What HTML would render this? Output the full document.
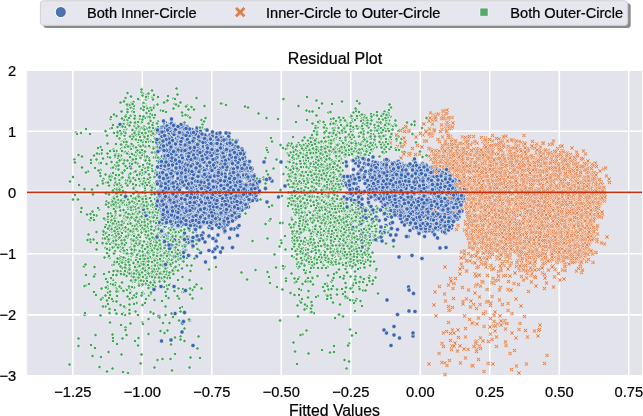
<!DOCTYPE html>
<html><head><meta charset="utf-8"><style>
html,body{margin:0;padding:0;background:#fff;overflow:hidden}
svg{display:block;filter:blur(0.35px)}
text{font-family:"Liberation Sans",sans-serif;fill:#000;stroke:#000;stroke-width:0.22px}
</style></head><body>
<svg width="643" height="416" viewBox="0 0 643 416">
<defs>
<marker id="mb" markerUnits="userSpaceOnUse" overflow="visible" markerWidth="1" markerHeight="1"><circle r="4.4" fill="#3d66b0" stroke="#fff" stroke-width="1.2"/></marker>
<marker id="mg" markerUnits="userSpaceOnUse" overflow="visible" markerWidth="1" markerHeight="1"><circle r="3.5" fill="#45a35e" stroke="#fff" stroke-width="1.4"/></marker>
<marker id="mo" markerUnits="userSpaceOnUse" overflow="visible" markerWidth="1" markerHeight="1"><path d="M-4.4 -2.6L-2.6 -4.4L0 -1.8L2.6 -4.4L4.4 -2.6L1.8 0L4.4 2.6L2.6 4.4L0 1.8L-2.6 4.4L-4.4 2.6L-1.8 0Z" fill="#db7a44" stroke="#fff" stroke-width="1.0" stroke-linejoin="miter"/></marker>
</defs>
<style>path.b{fill:none;marker:url(#mb)}path.g{fill:none;marker:url(#mg)}path.o{fill:none;marker:url(#mo)}</style>
<rect x="27" y="71" width="615" height="304" fill="#e3e3ec"/>
<g stroke="#ffffff" stroke-width="1.6"><line x1="72.8" y1="71" x2="72.8" y2="375"/><line x1="142.3" y1="71" x2="142.3" y2="375"/><line x1="211.8" y1="71" x2="211.8" y2="375"/><line x1="281.3" y1="71" x2="281.3" y2="375"/><line x1="350.8" y1="71" x2="350.8" y2="375"/><line x1="420.3" y1="71" x2="420.3" y2="375"/><line x1="489.8" y1="71" x2="489.8" y2="375"/><line x1="559.3" y1="71" x2="559.3" y2="375"/><line x1="628.8" y1="71" x2="628.8" y2="375"/><line x1="27" y1="131.2" x2="642" y2="131.2"/><line x1="27" y1="192.6" x2="642" y2="192.6"/><line x1="27" y1="253.8" x2="642" y2="253.8"/><line x1="27" y1="314.9" x2="642" y2="314.9"/></g>
<line x1="27" y1="71" x2="27" y2="375" stroke="#f0f0f6" stroke-width="1"/>
<line x1="27" y1="192.6" x2="642" y2="192.6" stroke="#fff" stroke-width="4"/>
<g transform="scale(0.5)"><path class="g" d="M296 316 727 426 686 372 342 475 585 307 627 454 668 500 640 326 401 478 271 541 282 448 313 430 244 565 255 225 747 269 737 488 614 347 806 257 304 424 639 437 622 412 327 491 663 327 649 362 641 506 262 470 269 440 697 454 627 324 615 395 266 526 299 357 278 567 608 369 327 560 245 409 355 463 603 465 671 362 622 340 278 359 609 428 706 243 689 293 307 627 625 425 245 516 329 524 738 242 703 478 307 298 666 332 764 405 624 554 325 494 651 434 606 392 720 503 705 499 291 209 647 355 611 499 667 411 318 493 307 527 303 421 226 476 240 404 285 645 623 530 775 225 691 596 583 338 172 571 590 410 645 342 262 478 307 443 672 507 655 305 645 360 680 308 733 457 700 233 667 383 291 436 226 402 661 452 658 435 320 543 244 447 811 305 608 389 366 524 219 358 731 250 288 411 598 466 651 522 232 416 679 514 276 306 635 440 719 207 845 314 576 323 731 306 265 269 275 419 705 241 690 584 213 465 201 340 707 567 299 361 157 677 649 582 750 261 669 513 632 450 251 196 247 385 185 423 654 353 344 526 326 525 319 500 657 292 687 436 317 477 679 352 140 363 696 483 682 469 601 304 654 365 267 294 728 446 193 319 657 371 282 482 241 269 321 468 223 410 329 547 615 505 607 350 247 516 228 393 276 407 325 490 271 357 235 414 604 519 681 472 669 349 755 434 668 474 704 284 358 477 745 568 248 201 293 359 348 502 290 380 299 516 234 688 225 399 318 558 754 476 291 525 339 459 281 300 632 351 316 243 729 444 675 321 683 296 221 238 346 523 747 294 712 224 322 486 680 488 628 393 663 280 629 306 679 324 232 315 692 312 259 366 735 310 726 512 292 598 226 602 729 243 637 433 327 455 689 309 641 283 617 341 699 291 262 209 675 467 603 434 249 461 274 549 742 296 364 537 234 401 245 455 726 446 631 497 252 530 283 369 564 392 694 479 604 394 613 617 678 312 717 457 658 446 220 488 289 276 615 391 628 431 686 305 291 514 315 209 243 254 634 291 236 478 281 472 593 479 700 268 355 468 676 264 701 464 701 519 203 307 274 395 646 574 263 317 180 441 702 306 588 319 256 542 598 393 341 468 714 202 241 317 267 217 612 308 699 486 617 384 591 302 720 434 728 442 735 444 286 551 313 490 689 516 257 509 260 208 680 243 586 368 602 580 659 279 690 422 661 410 741 288 340 507 611 326 631 467 638 246 622 518 287 334 232 541 675 493 674 381 293 213 625 476 302 459 317 538 264 337 352 493 602 486 269 439 250 262 604 495 316 546 270 536 243 503 352 518 650 504 261 583 670 636 735 297 707 225 747 299 219 516 296 475 628 363 607 509 767 238 648 308 237 517 249 488 224 354 273 450 641 316 653 445 676 407 695 596 288 508 347 497 622 312 305 271 647 430 309 735 318 441 705 493 464 371 644 430 252 579 318 453 277 554 652 355 567 348 689 497 648 306 731 313 651 453 231 363 275 424 666 572 594 524 731 481 606 496 640 437 679 373 579 449 745 464 331 523 332 203 287 373 311 417 621 482 254 580 267 226 691 309 237 517 360 516 658 442 341 718 275 423 730 475 656 448 605 281 172 550 242 311 282 542 348 541 379 735 344 445 334 535 650 443 628 464 589 310 303 516 263 487 256 239 334 477 645 445 653 264 351 458 269 479 664 510 322 527 244 283 215 485 317 479 242 298 289 406 605 669 733 295 275 540 672 322 696 419 696 307 336 521 741 448 777 462 802 291 291 392 248 524"/><path class="o" d="M1151 497 899 353 1154 387 1051 384 1148 444 1123 385 993 453 886 312 951 474 1157 475 1003 389 1079 493 936 336 1066 413 1054 524 998 413 1094 499 1077 311 1072 361 1044 532 1072 306 1029 455 944 379 1188 391 1128 460 1070 332 1040 480 1112 410 1015 421 1209 383 1140 393 1043 461 901 346 1077 314 1013 433 1151 382 1015 523 1081 509 963 497 1080 451 1166 413 1119 349 1117 360 1001 455 920 352 1062 551 1165 440 1015 476 1105 488 1020 489 1191 432 1019 419 1139 340 999 378 897 645 891 288 1027 370 1013 337 1007 434 978 382 1024 473 1070 343 1062 327 1113 425 956 316 997 334 1022 297 1010 294 1056 496 1086 512 1049 326 996 398 1048 475 1102 336 1112 396 952 400 1068 353 1001 575 1092 499 1097 436 929 386 1032 430 1039 516 1191 458 951 572 948 465 1149 489 1101 333 1001 323 972 475 960 448 1039 392 1087 395 1121 431 1173 447 1071 383 1004 391 1130 353 984 343 1094 354 976 425 1148 486 1050 383 1107 378 1017 309 989 337 1140 455 929 304 1156 326 1072 378 1051 463 1071 499 1042 452 1143 351 908 294 1020 401 950 429 1061 515 1127 350 905 287 1045 386 1172 384 982 486 1108 369 946 497 927 330 985 493 1014 463 1141 478 932 384 981 386 1005 391 978 359 1145 430 1143 445 1175 488 1105 420 982 434 1081 469 1053 426 951 302 945 443 1110 347 970 421 1018 456 995 648 1099 409 1178 357 1184 504 1096 301 1041 465 1010 323 934 425 1173 405 1085 533 1064 421 903 379 970 405 1035 472 1020 482 1072 501 1015 282 1099 485 1105 461 1049 458 1023 494 1063 361 949 416 1105 484 1182 437 1052 382 1126 477 947 422 952 367 1060 343 1144 496 993 405 1147 375 1094 383 1095 446 1134 506 973 359 1053 326 1027 416 1084 358 915 335 1073 362 858 438 1139 346 925 535 1045 401 1050 444 1067 439 1165 395 1067 380 1151 511 1001 493 980 294 1067 319 993 514 1033 324 987 411 1031 328 1046 342 1183 344 993 454 1012 691 1028 458 1054 456 1004 285 1052 447 957 502 935 332 951 495 1077 461 982 321 958 462 1078 353 1093 413 1171 393 1000 474 1007 376 1097 494 976 460 939 414 1138 489 896 253 1127 481 862 299 1054 313 1094 711 920 325 1208 379 1122 475 1076 512 960 311 950 449 968 419 1131 435 1144 506 1094 411 1102 417 1084 536 1120 458 1039 430 1028 359 964 384 1002 311 1055 352 937 330 1113 356 1153 354 1105 464 1105 458 1149 493 1146 479 1143 498 1109 391 897 238 946 366 1130 457 1118 330 879 333 1045 471 886 332 999 580 1060 403 1137 337 1059 358 1164 319 980 535 1133 422 977 320 1109 429 1090 526 1160 423 1094 335 1189 359 1020 330 1012 499 1093 439 1038 746 996 390 914 306 947 328 1174 484 1137 309 1126 441 1147 506 972 342 1013 446 1100 482 1133 409 925 274 958 499 1060 380 1142 445 1181 484 1028 315 1192 371 1031 319 1135 416 1048 461 954 446 1079 418 972 494 1160 448 1101 469 941 465 1128 558 880 327 1186 394 1168 336 1010 477 1144 475 1046 416 1102 329 920 314 1108 355 878 306 1046 360 986 417 1115 355 1060 468 965 423 1091 438 1028 340 980 298 1122 333 1020 475 963 497 1093 566 901 557 890 320 1049 427 1020 430 1052 367 1082 410 942 602 968 379 1038 385 1070 348 998 468 1038 448 1056 350 1099 394 968 375 990 662 1189 368 1186 439 1052 324 942 309 985 282 1077 484 849 282 1127 402 1079 462 983 378 937 333 988 487 990 322 904 302 1125 540 990 495 937 580 961 676 1040 420 1015 470 1028 467 1031 396 1115 437 1029 382 1188 414 896 338 1063 424 940 317 1038 503 1098 376 1095 440 941 365 1118 455 1134 502 1124 301 1019 494 1053 363 1163 430 1085 445 1063 293"/><path class="b" d="M497 355 788 343 904 411 343 285 771 332 475 323 778 361 766 387 330 402 802 366 480 400 413 401 426 371 354 339 898 428 474 414 419 271 348 272 440 327 379 374 449 432 854 416 408 278 851 425 861 458 916 385 340 418 340 328 382 365 888 354 853 330 911 399 746 391 901 378 480 356 376 474 901 380 417 473 373 364 750 364 498 375 809 374 380 368 335 280 324 344 908 370 411 304 857 388 768 411 355 304 737 378 918 423 478 309 688 394 423 401 885 434 732 361 835 453 336 329 865 407 368 368 892 459 435 410 453 428 345 493 336 360 435 408 419 397 354 394 376 273 368 396 763 338 441 420 812 375 355 261 488 312 360 405 421 328 917 409 876 407 404 401 338 275 849 357 402 307 337 406 851 402 713 409 799 396 773 418 825 400 850 369 410 358 729 327 363 397 365 418 385 480 814 378 345 376 445 283 402 308 796 328 388 327 375 389 338 343 325 349 791 414 904 373 421 373 801 337 510 393 857 447 395 283 759 340 829 435 465 312 415 344 430 283 803 399 426 503 757 348 466 307 394 439 886 419 369 301 828 367 847 332 411 431 322 352 345 325 346 273 794 430 781 365 381 332 778 417 373 365 490 335 875 384 418 365 922 384 352 262 359 357 754 374 424 312 365 354 878 363 442 320 426 403 893 405 442 432 899 396 401 505 804 327 473 431 452 430 466 346 314 440 811 392 814 348 416 326 371 442 418 333 921 398 861 448 769 377 257 247 331 246 433 348 440 292 320 403 797 411 370 292 341 439 797 360 383 330 797 406 405 358 913 434 337 301 411 315 322 435 347 253 448 369 821 360 468 385 427 314 337 427 483 367 744 366 841 344 372 414 363 326 392 339 428 272 724 398 398 436 487 390 465 495 895 429 861 455 333 438 388 273 397 438 478 388 473 368 866 451 445 429 423 296 385 332 341 431 817 396 320 399 420 399 781 416 793 338 401 295 429 406 321 320 326 329 420 271 873 414 832 444 854 343 423 358 375 395 696 374 449 349 346 292 457 334 358 258 460 282 394 329 473 417 367 420 419 366 472 313 447 365 808 413 415 340 871 448 318 401 380 331 346 405 874 380 704 408 362 453 856 372 328 283 355 268 544 362 425 406 835 436 450 453 854 341 329 405 332 357 320 406 369 273 825 384 330 452 867 376 377 319 459 357 350 268 502 365 447 375 439 395 410 325 497 350 814 343 841 383 762 326 907 400 814 401 760 358 361 401 921 425 347 489 475 387 393 513 783 389 758 387 344 432 909 367 916 379 705 321 742 341 364 434 355 363 464 322 369 251 448 357 366 411 881 415 466 290 746 314 777 357 815 352 377 372 362 290 465 285 446 354 428 336 905 362 506 384 897 447 378 305 842 389 401 301 332 444 900 387 753 329 377 451 344 364 870 361 477 327 325 399 460 299 901 386 477 329 340 411 342 680 868 363 465 329 402 358 751 379 379 399 782 339 383 383 871 368 319 279 422 405 428 349 418 455 708 406 908 416 370 305 336 511 474 369 719 325"/><path class="g" d="M302 381 296 293 235 337 538 554 623 489 542 276 662 245 332 517 308 492 686 286 612 560 619 299 661 479 582 391 326 546 293 475 672 442 633 322 618 283 765 228 659 526 266 466 666 420 283 459 262 337 638 286 296 446 685 303 680 361 219 618 703 276 268 468 225 471 635 255 527 355 640 416 666 432 693 737 655 516 306 470 648 405 706 584 663 340 657 283 587 301 697 470 657 296 791 248 347 460 245 580 316 524 662 438 688 458 278 254 647 330 307 550 725 250 248 320 267 387 646 394 311 370 672 298 719 522 307 271 273 341 259 598 667 450 601 345 675 475 633 401 628 469 719 266 232 576 679 456 582 362 588 349 633 279 718 273 535 477 308 473 585 482 590 565 260 464 717 489 220 590 635 552 783 271 673 291 619 287 280 242 692 472 150 390 677 408 256 512 348 506 211 263 616 359 588 350 316 481 717 489 574 297 315 503 598 555 398 500 275 460 700 444 627 383 280 418 709 509 594 398 684 262 647 381 630 417 588 462 285 242 602 425 288 346 736 555 721 231 344 456 772 304 708 489 218 596 254 337 223 454 667 483 712 563 632 342 624 295 710 460 655 499 263 512 199 328 320 517 597 349 253 258 578 340 187 479 232 416 692 433 681 240 727 520 241 205 586 350 771 460 241 403 592 290 232 412 651 274 732 520 778 232 265 465 619 298 293 280 734 242 676 476 752 541 314 425 310 564 260 440 696 273 673 297 679 376 672 450 666 431 732 453 663 359 647 420 343 527 624 391 236 262 333 556 275 454 572 557 609 411 261 529 231 308 671 278 635 267 626 426 702 258 268 544 227 417 703 451 245 294 633 201 616 556 290 606 304 505 570 472 582 310 787 251 254 425 662 491 249 439 265 436 657 225 327 480 731 241 315 520 265 428 647 332 248 305 701 485 667 438 599 504 236 316 598 457 544 283 242 550 660 460 590 362 247 255 599 307 587 469 655 305 279 260 327 508 584 355 671 413 651 443 313 488 652 292 697 250 280 547 664 530 287 521 242 650 587 485 156 399 617 504 712 431 670 458 735 242 329 563 670 422 590 336 758 267 657 379 269 428 679 461 418 539 738 278 694 412 331 448 374 211 250 426 320 558 653 432 642 368 643 300 730 293 315 526 699 490 634 263 692 442 657 579 264 426 182 320 627 490 753 294 221 443 216 585 267 546 613 511 242 576 567 537 695 300 722 446 242 430 619 490 201 631 685 466 781 233 278 416 754 244 308 483 365 492 672 506 678 522 259 459 576 412 290 536 265 230 649 450 697 471 680 399 629 365 653 306 225 737 368 642 221 405 614 301 272 514 664 427 674 250 610 397 587 395 712 666 292 448 306 246 287 421 659 336 336 528 754 224 779 279 676 438 605 387 716 426 673 315 240 512 583 436 661 296 679 324 333 553 777 232 763 264 251 655 333 518 342 511 624 315 661 401 230 378 226 560 691 423 295 430 714 236 295 499 283 407 223 336 737 320 751 457 254 335 198 308 711 553 637 370 273 398 248 477 303 336 403 577 172 258 280 239 288 211 347 197 643 320 666 263 588 471 236 498 248 203 770 286 728 294 260 314 269 543 248 303 280 371 625 299 530 374 241 502 627 289 308 315 787 493 291 213 236 406 677 455 742 293 308 472 309 377 334 530 276 284 853 236 219 626 647 460 280 413 263 484 622 395 221 303 598 337 325 458 701 459 667 284 358 465 621 356 576 397 309 541 293 294 585 452 705 237 250 615 214 743 612 542 742 268 722 299 304 371 746 561 636 386 593 466 741 307 307 294 274 280 296 507 696 505 232 526 588 453 283 465 281 727 328 487 613 292 638 459 275 397 614 407 722 459 606 300 696 304"/><path class="o" d="M1126 321 1016 299 1008 337 1043 285 1033 318 865 248 960 435 1168 470 1128 388 1112 400 954 648 1060 515 1086 320 1074 316 969 484 1189 420 1093 500 989 346 1061 383 934 542 999 466 1098 402 1007 289 1138 339 932 384 1096 390 1081 419 1022 327 962 387 1065 511 1052 389 976 325 1138 353 1017 509 1144 475 1150 445 1073 499 1101 401 1036 364 938 310 1130 541 1146 493 925 381 1174 454 1040 422 1142 486 933 389 1016 621 1128 528 982 606 1007 404 1156 499 1035 380 1163 456 1169 353 1073 493 1016 449 1000 479 1008 372 1067 445 1202 372 1179 413 1028 349 1081 427 901 273 1118 411 1156 399 939 397 991 444 1062 479 1158 485 902 256 1093 514 976 326 1146 365 1004 448 952 431 1097 325 968 743 988 631 1064 434 945 442 1197 359 1134 513 961 479 1003 399 1158 464 1031 288 1186 473 1051 509 1094 465 922 324 977 337 1084 464 1011 470 1117 436 1109 517 1098 456 1040 460 980 337 1053 556 900 333 1158 498 1143 423 1188 475 904 315 952 357 961 319 973 335 1141 478 962 408 986 557 1007 437 1182 424 1096 314 1160 490 1024 487 1021 299 1050 412 912 317 1003 527 1182 444 1194 404 896 248 1149 437 1001 281 1184 390 1054 303 965 391 891 285 1161 457 950 432 917 317 1006 356 1138 450 996 422 1162 483 914 298 1159 502 959 321 1136 445 1018 434 973 298 871 301 1012 371 1122 385 1070 424 868 396 1030 499 997 560 1092 355 899 324 1047 392 993 335 999 295 1062 377 973 604 984 394 931 326 1097 344 982 338 795 293 1121 317 1088 367 872 318 1153 468 943 376 994 369 961 402 893 663 977 327 1129 508 1005 434 1152 363 1146 414 1064 548 929 278 1129 353 1007 552 1008 323 1051 432 1006 315 948 356 1045 432 1179 415 1123 349 1063 426 1141 380 1150 522 1011 445 917 675 979 416 958 301 1148 420 1133 456 1022 453 1056 487 924 297 1040 400 970 414 976 354 1108 502 1008 506 1070 345 985 447 1037 408 1175 325 956 517 852 262 1155 520 982 408 1145 410 1078 429 945 511 904 235 898 252 1076 358 1157 517 1199 411 1010 641 920 357 1161 369 1053 479 1161 413 960 609 1164 340 887 327 1084 503 880 332 1070 433 1024 424 1159 462 1129 443 1118 426 943 416 1001 350 974 441 917 308 971 305 1003 472 1098 465 925 330 1162 509 986 368 1064 404 883 433 1093 483 937 507 1064 477 1160 390 1011 658 992 380 1151 321 1148 509 1169 404 1000 366 1002 332 952 346 1042 612 1192 359 1063 433 1131 329 1125 450 1004 371 1079 471 1014 479 967 345 1064 491 1171 484 1143 479 1081 461 1053 537 1170 394 1165 410 924 327 1120 405 953 488 967 407 1049 321 979 372 1118 327 1101 421 1006 416 916 660 908 411 901 293 905 336 1063 409 953 418 1083 361 1133 514 1135 306 900 619 1002 458 1171 308 1206 379 937 386 1030 361 1167 474 1167 415 1092 390 1088 496 1051 464 1173 331 1001 358 1160 486 988 348 1146 328 872 632 1198 402 1134 354 894 225 1032 495 1090 367 1153 397 1150 489 888 303 1070 511 1126 479 905 660 1067 413 953 699 1038 486 1034 463 1078 420 953 372 991 423 948 448 1170 380 1000 419 1008 317 1177 459 1135 391 1144 444 1116 477 1054 416 917 350 971 370 1037 342 1075 418 913 340 972 370 1168 388 971 478 859 258 1122 448 938 397 987 652 1049 328 1011 507 1044 340 1145 437 1194 435 928 376 1054 362 1125 377 1120 416 921 411 1008 382 932 361 1123 505 1150 414 889 325 1070 454 1069 387 1131 327 894 260 984 593 1142 477 945 342 1066 374 1024 345 983 302 1044 406 966 506 1027 472 1024 408 954 376 1004 325 1078 488 1077 398 944 424 1109 358 990 470 1092 332 1026 480 1007 306 875 309 1146 386 995 384 1149 391 1179 435 1119 337 1116 513 1042 462 1038 467 1205 369 1145 392 944 366 1170 359 1000 632 1155 407 905 337 1149 424 966 366 876 315 980 324 1164 465 1049 351 909 330"/><path class="b" d="M795 405 752 363 765 346 799 409 780 371 426 391 446 285 799 425 321 255 329 429 818 365 879 387 405 366 349 285 323 421 754 355 435 424 474 380 488 321 361 252 809 344 753 366 440 363 386 387 859 452 453 417 866 369 457 317 390 447 384 375 466 430 746 353 890 402 776 432 770 349 385 313 793 361 517 386 763 341 380 444 353 371 913 424 393 319 889 396 747 348 742 356 896 442 391 420 755 350 446 369 386 275 796 370 339 282 466 438 847 370 357 314 359 305 773 379 365 323 387 329 384 394 319 319 396 356 913 411 695 354 464 332 798 430 404 471 398 325 876 341 746 370 483 400 458 353 363 269 873 380 831 426 778 354 849 419 379 640 384 290 408 379 748 333 832 437 373 374 804 393 332 252 460 321 315 291 355 258 387 269 883 429 336 293 844 447 491 355 722 383 325 266 418 310 401 274 393 334 768 391 287 346 781 425 389 393 336 296 884 444 902 369 490 406 905 442 519 360 369 480 400 302 718 344 827 456 461 304 821 353 355 303 481 311 880 432 366 436 893 428 326 386 383 361 412 325 890 395 497 414 475 403 816 434 839 419 809 443 919 398 868 400 765 345 801 332 839 427 375 305 824 410 425 440 801 387 328 304 829 398 403 387 726 352 841 459 831 377 361 366 773 419 439 295 460 292 344 397 342 287 338 323 335 420 769 464 354 415 335 363 849 473 432 306 801 344 396 287 796 385 912 429 497 365 414 334 430 317 395 263 441 398 816 473 480 345 342 257 357 351 438 305 459 476 857 420 395 305 748 352 341 347 369 262 832 380 448 410 451 354 338 428 892 388 380 483 737 397 367 408 868 422 397 386 870 339 340 361 762 386 367 323 763 326 892 397 703 398 500 390 905 370 426 355 417 363 368 499 756 352 822 367 776 357 440 358 835 444 863 387 309 387 416 444 442 330 774 347 323 255 846 462 780 377 830 453 341 258 917 389 475 383 474 419 457 447 820 449 914 429 534 404 853 423 892 421 474 355 791 389 339 293 466 415 807 357 903 456 840 356 437 341 491 371 470 345 433 329 323 326 853 375 387 284 399 445 801 428 899 379 426 424 330 272 332 288 721 308 484 404 447 404 790 428 489 396 331 419 440 338 752 333 377 399 388 362 414 376 861 425 892 426 355 377 386 377 341 385 755 339 817 384 434 336 327 263 877 374 451 337 449 366 353 273 457 330 726 356 885 382 868 392 768 344 387 278 926 403 470 291 838 386 874 437 359 449 447 284 346 449 781 406 352 373 365 270 360 311 777 392 432 371 917 405 366 439 391 268 325 313 360 337 824 439 381 347 863 372 325 382 891 431 844 351 509 393 427 403 423 323 325 286"/><path class="g" d="M260 578 311 480 655 437 327 469 310 426 218 470 533 296 146 399 721 299 759 464 559 493 586 320 678 433 531 367 703 474 673 272 691 576 677 415 344 458 671 249 229 460 336 192 260 327 253 366 592 417 749 282 379 560 301 547 283 709 769 253 580 374 582 347 587 454 239 376 765 473 251 508 331 448 272 594 381 542 263 524 317 494 735 513 271 554 221 257 639 429 278 561 258 576 731 483 745 288 611 288 278 438 280 312 678 433 193 431 294 346 146 354 358 515 335 546 326 484 398 471 263 553 630 521 650 343 708 503 705 432 587 326 584 390 693 477 287 587 655 479 722 451 678 294 720 303 617 707 663 420 365 584 322 442 308 510 229 370 658 408 631 315 647 513 236 254 256 304 265 435 600 602 322 545 620 387 637 363 335 500 368 584 753 413 634 328 634 470 618 425 367 471 351 250 667 464 348 484 307 505 299 510 266 371 556 238 602 369 296 435 597 369 618 481 614 194 342 689 304 338 600 310 325 449 727 414 309 305 662 596 678 235 314 519 738 411 268 575 702 454 655 473 739 475 327 460 669 256 674 297 606 481 289 320 772 238 290 459 265 563 805 304 663 563 306 375 636 349 639 368 278 199 273 459 703 305 282 547 241 421 345 518 292 427 588 493 704 523 631 383 684 318 561 290 253 464 675 339 642 346 275 434 593 563 622 441 680 280 774 428 686 428 207 469 608 515 826 321 643 282 263 307 694 481 627 479 832 285 227 395 325 494 690 304 296 456 646 344 766 285 675 476 220 460 220 583 233 232 266 371 767 306 393 569 732 304 635 368 294 418 669 400 219 498 216 314 269 469 578 406 295 465 624 293 653 411 677 527 744 469 505 482 248 247 264 526 230 469 222 348 266 525 722 512 300 506 695 292 286 395 228 474 649 254 295 234 633 347 673 545 658 314 668 377 243 482 327 500 286 330 738 308 631 332 328 510 247 286 662 238 710 543 240 411 846 247 753 450 257 208 199 734 640 461 612 459 265 508 624 381 706 310 290 376 749 451 367 461 679 420 277 505 736 421 233 603 252 412 618 284 275 530 650 420 650 250 598 419 340 568 233 302 646 286 678 525 652 337 250 437 662 468 610 294 597 286 606 446 326 528 259 469 249 271 352 502 667 525 604 420 180 439 245 381 608 487 713 287 692 424 259 620 705 474 331 613 727 495 689 302 327 495 683 440 653 257 651 391 292 368 169 630 215 439 649 371 190 549 664 399 323 509 730 456 341 498 782 215 675 384 737 461 326 515 680 513 230 502 647 244 303 380 585 291 255 236 778 257 693 289 689 402 712 462 254 336 637 286 284 370 648 502 270 405 312 541 653 567 694 415 270 500 294 514 265 509 627 535 287 539 608 388 675 490 310 398 618 344 379 461 590 426 288 362 311 470 633 436 732 467 369 682 291 337 296 423 288 308 687 451 311 491 294 341 691 538 152 265 297 547 216 514 756 259 544 411 621 463 668 548 700 659 627 333 338 514 239 545 282 246 395 498 336 485 626 460 337 483 675 464 290 371 296 487 334 521 333 549 726 564 696 510 279 502 697 296 642 433 268 559 203 578 758 273 691 455 654 364 237 309 253 410 594 502 333 526 308 519 599 302 330 489 604 377"/><path class="o" d="M1057 385 1078 493 1049 453 971 304 1096 342 1104 518 975 303 867 230 1096 460 944 323 896 338 1029 331 955 389 898 621 926 288 1089 302 1087 491 818 307 875 433 974 579 1076 452 1075 451 1122 397 1169 483 1061 480 1193 411 973 444 1115 508 896 322 1080 319 1086 391 1084 415 1032 383 1115 327 1176 458 967 452 1011 451 1104 335 853 282 1122 432 1108 352 1094 381 1140 342 998 470 887 666 954 297 1122 378 990 372 1161 422 1031 454 995 404 1063 482 1027 428 1012 447 1097 420 1066 389 925 375 916 358 1107 340 1154 333 1114 458 1084 519 1115 492 925 304 1167 439 1072 328 931 443 966 283 1126 404 972 379 994 432 890 726 1027 437 891 602 1046 359 940 477 947 340 896 348 1151 463 895 267 1031 473 941 325 957 636 1061 439 1165 509 1049 430 1184 454 1064 339 1164 470 1109 506 953 412 1071 316 1055 478 1053 454 1071 331 1063 442 921 318 1044 405 946 337 1028 439 1202 363 924 348 1028 467 1097 364 1121 310 1070 399 1166 517 1157 445 1027 307 1096 472 1062 313 974 442 1177 441 1172 482 1057 366 1109 353 983 326 1060 436 1173 351 890 749 1125 360 1058 505 948 407 1016 385 1058 505 1175 508 1042 401 1065 375 1074 328 1064 386 1013 336 976 321 903 565 1072 572 1130 500 1049 479 1142 499 1069 553 981 340 802 316 1034 495 956 419 1027 352 974 425 981 668 941 437 987 463 929 359 1062 542 964 334 909 333 1032 447 1068 351 1179 397 1099 412 960 398 1175 388 1128 511 1083 379 892 250 1190 436 853 398 1107 461 1134 460 1084 368 1017 312 958 371 1170 514 1155 409 930 414 1011 423 1132 464 975 400 1177 469 920 319 966 490 994 432 1026 342 1000 331 995 449 1109 387 1068 323 1041 480 957 476 892 237 1002 284 1173 374 906 577 1071 388 1128 522 951 456 1031 334 941 495 1010 334 1152 461 1048 291 1039 318 926 337 949 491 1173 389 1035 316 970 402 1165 438 972 485 1002 470 1019 469 1016 424 1066 326 1185 404 902 321 1001 426 945 405 1047 560 1120 426 1195 431 1125 344 1101 413 969 396 1010 479 1046 305 1106 478 946 286 1124 517 1098 408 969 337 1067 395 1105 486 1152 404 958 389 901 253 1181 476 1152 522 1001 339 1126 481 1113 339 1037 499 924 331 1099 519 1133 339 1024 318 1132 419 1034 411 1105 516 1002 335 1096 345 1126 448 1119 522 1193 458 898 363 896 301 1180 456 1014 342 1066 338 1140 437 1148 367 988 308 1012 330 933 366 1095 465 978 305 983 357 1178 334 1099 369 992 383 1071 465 958 471 946 647 948 371 1206 385 1100 420 930 402 889 588 1034 465 1054 547 1122 466 877 228 938 398 1027 347 958 367 946 525 1141 486 988 567 972 429 1003 470 1097 540 1138 317 1161 343 945 467 1141 345 1179 483 1178 433 984 347 1080 650 1163 366 1021 474 1090 479 990 474 1155 415 1109 416 1129 347 989 408 1141 399 946 383 1018 348 1137 344 982 298 1065 350 1087 494 1072 360 943 426 1073 339 936 294 1012 341 1013 393 1092 383 998 469 1148 453 1097 486 1156 481 1084 433 964 426 1114 525 887 338 921 377 1080 369 1051 425 959 356 1051 469 990 308 1064 339 942 359 1018 370 1174 383 998 278 1032 395 951 466 975 412 889 312 881 316 1105 391 1011 324 1111 440 923 321 1085 546 1019 469 952 486 964 380 1016 607 1063 376 926 378 1105 412 1052 434 1023 325 1108 514 1116 371 962 330 971 276 1134 463 1156 441 1142 497 1142 404 1004 477 928 515 1158 454 1091 336 939 412 911 341 1086 376 1086 405 1118 336"/><path class="b" d="M370 261 458 340 780 416 358 438 491 387 750 373 909 414 419 394 840 364 499 383 467 373 375 346 431 342 842 396 429 400 800 407 411 406 803 329 334 342 322 378 348 268 845 439 919 426 780 363 786 365 355 293 909 417 898 451 888 447 381 445 896 410 365 344 448 416 786 426 747 325 787 336 427 325 376 442 480 297 412 430 344 257 360 453 896 350 844 380 463 389 843 337 864 417 467 380 419 276 335 391 348 345 880 362 471 400 377 393 397 278 315 397 836 349 377 257 792 419 360 411 458 369 821 364 417 363 787 400 848 406 800 370 897 432 472 300 426 435 338 274 778 420 433 395 441 308 852 430 451 322 371 413 424 366 481 352 416 427 380 373 448 327 436 366 330 398 826 411 428 416 430 378 381 406 395 428 369 466 900 437 753 345 487 368 356 423 705 390 875 447 812 424 340 409 369 500 791 351 777 393 481 378 332 306 447 307 503 342 403 371 426 316 514 375 353 422 910 408 371 282 862 336 404 433 358 285 877 393 687 404 771 366 888 417 466 378 396 400 392 376 430 342 392 312 386 337 437 414 806 367 476 306 700 397 394 370 363 301 862 376 344 448 412 386 402 366 766 387 832 406 390 278 824 377 364 327 842 435 434 334 788 345 359 337 400 291 458 322 284 269 847 406 461 386 798 351 335 396 766 396 787 380 440 445 841 455 439 328 440 370 335 367 371 309 717 332 389 281 388 284 357 369 325 330 474 309 476 313 420 332 821 379 364 270 446 372 423 337 348 390 448 458 403 314 853 463 843 370 391 343 261 334 317 346 442 453 486 315 371 336 330 252 726 386 343 365 357 317 750 377 393 412 914 431 797 421 354 449 892 384 419 418 488 314 399 349 326 339 909 371 908 413 857 340 859 368 851 359 399 378 723 462 769 332 471 321 343 242 388 373 811 383 471 300 764 385 371 501 782 406 785 420 329 382 344 308 806 420 463 407 417 381 432 299 412 413 786 431 359 484 376 387 822 372 803 347 463 338 721 440 845 451 405 302 792 418 334 298 854 409 892 402 878 398 461 368 422 316 434 411 372 360 785 393 823 365 381 362 763 329 812 436 410 484 373 293 850 345 358 401 744 359 812 428 321 300 916 406 350 428 903 399 391 378 469 391 395 399 491 346 780 351 347 348 819 405 890 370 367 265 344 271 445 496 696 387 790 415 740 391 830 379 805 410 464 370 416 281 805 411 378 429 441 306 511 363 351 301 873 391 377 290 764 379 810 359 431 389 361 396 486 319 833 376 841 416 888 420 852 437 869 361 858 353 920 398 901 405 840 376 890 465 342 438 421 444 344 360 411 524 911 361 386 412 404 338 365 296 829 366 772 451 437 300 449 323 388 366 866 383 443 327 340 392 387 339 843 458 380 417 405 364 365 432 780 365 782 361 507 363 347 292 446 383 442 379 884 434 708 479 775 357 359 382 773 666 748 370 761 361 772 340 891 466 797 398 396 267 443 273 339 339 911 435 897 400 345 376 775 341 860 386 827 430 514 400 847 382 829 341 704 364 762 474 387 388 408 310 383 289 428 365 747 384 893 394 870 434 469 392 831 412 913 397 328 321 384 285 334 300 374 447 839 434 848 365 365 367 866 425 376 400 896 444 818 622 403 420 380 431 339 383 767 387 902 411 325 288 481 349 479 365 409 358 770 382 414 382 373 357 459 366 883 357 460 353 816 404 872 453 326 407 470 321 323 410 403 476 501 341 382 353 456 362 362 422 849 359 786 371 398 398"/><path class="g" d="M661 381 729 231 757 258 621 291 702 230 718 574 325 501 715 443 316 532 284 541 241 461 778 241 286 208 697 450 292 199 645 526 601 481 343 520 571 298 666 435 633 527 666 451 293 342 237 352 277 516 634 286 707 465 319 500 370 501 725 522 273 308 273 449 296 540 365 231 317 406 256 429 635 467 701 463 622 465 300 238 641 328 552 535 632 472 286 187 667 237 679 526 620 302 605 451 616 352 616 281 661 472 667 304 285 362 716 297 641 415 713 299 271 312 703 442 716 492 641 510 726 269 228 447 606 502 641 348 287 540 569 533 662 374 224 256 319 537 662 368 283 524 608 528 724 612 643 285 296 524 263 552 681 448 403 240 279 312 668 704 373 516 739 452 225 384 658 308 681 515 242 471 731 490 286 518 270 322 641 287 646 379 702 498 283 350 594 403 397 673 170 626 722 496 609 462 326 459 162 424 240 450 698 287 346 634 730 492 252 463 672 491 661 369 585 476 323 474 661 248 607 349 249 341 678 289 302 434 460 368 699 511 664 324 653 462 634 294 203 577 343 544 844 256 297 493 228 494 688 479 323 485 296 340 363 453 592 338 601 411 308 421 600 455 278 543 626 497 695 456 668 692 693 491 232 350 274 408 303 574 594 290 321 438 308 211 361 463 272 500 644 527 659 369 734 310 309 533 744 472 531 448 722 304 606 414 736 513 679 266 616 350 721 309 664 272 338 511 777 227 587 372 770 288 225 449 684 283 270 549 237 312 696 306 266 419 223 440 337 596 677 511 704 445 301 372 290 293 274 422 270 563 224 463 255 546 598 590 263 210 269 524 732 499 669 362 258 445 762 247 584 336 694 433 585 335 670 453 294 513 344 741 533 342 634 327 706 460 734 442 314 301 615 440 710 423 268 374 313 472 743 303 632 336 315 395 622 311 777 231 765 286 306 468 624 341 726 581 628 626 608 366 251 304 157 310 681 449 301 281 612 448 601 315 215 483 349 471 632 519 653 513 698 687 293 190 268 503 693 308 264 357 616 487 282 552 722 429 628 374 634 416 725 522 791 241 344 527 594 348 343 457 269 373 385 580 740 307 659 290 240 454 224 598 704 288 668 397 250 391 686 287 693 246 315 549 701 414 254 500 627 466 611 546 312 574 624 502 665 336 589 557 297 247 278 291 688 424 739 552 690 526 587 294 237 400 642 523 597 212 664 286 733 485 261 497 321 441 618 423 243 345 261 215 315 542 710 304 600 507 592 308 202 714 275 479 738 275 621 401 285 416 266 399 272 295 309 512 705 458 704 536 350 523 255 459 281 358 297 544 312 515 389 517 295 217 737 479 304 491 216 572 339 529 671 246 250 530 289 414 684 444 243 403 669 412 278 435 245 520 290 435 625 276 626 347 622 361 601 305 281 392 678 440 624 464 686 588 622 310 627 303 772 284 593 373 717 254 225 485 626 439 608 394 666 459 595 417 254 510 577 369 660 337 624 309 671 446 317 471 362 644 207 358 226 250 664 401 729 535 351 537 579 359 599 355 727 429 724 287 725 515 731 581 594 367 225 530 597 413 241 459 586 310 290 511 276 518 700 473 625 351 307 543 609 411 561 380 685 341 211 613 712 416 266 291 249 425 287 206 757 475 742 293 580 321 603 424 291 425 310 277 205 596 646 329 305 524 675 375 679 302 711 462 298 222 336 483 298 591 304 181 267 463 264 482 282 409 647 433 521 399 699 504 668 278 275 327 632 594 612 617 367 520 226 682"/><path class="o" d="M975 423 1022 447 950 394 1045 481 1027 417 903 279 1099 399 1024 297 944 340 1171 341 1124 384 1145 347 1096 428 1041 457 1166 318 988 643 1082 304 934 338 994 479 1155 429 967 452 1082 428 987 322 1144 401 1132 392 1133 393 1087 395 979 341 1119 437 1015 406 1138 506 1116 463 1181 438 974 407 901 667 948 488 1075 395 915 326 1167 371 1098 494 1106 374 862 319 1109 500 1072 441 973 280 978 464 1106 460 1055 324 1153 304 1165 489 961 329 984 395 943 409 1115 483 988 433 1113 444 1071 391 872 322 1077 444 1048 271 1039 465 1133 318 898 327 973 499 939 435 968 477 949 442 1191 326 1203 381 1185 390 1120 560 893 264 1086 355 919 301 975 449 1089 409 1050 452 1163 493 1105 479 1169 336 1039 380 1084 383 1019 425 1173 475 1028 489 1159 438 1069 531 1105 506 1053 728 1161 347 976 445 1156 452 1196 374 1058 443 971 480 958 331 1191 370 938 319 1141 410 1143 408 936 278 923 504 935 340 1002 474 1082 343 1063 518 1045 381 1137 493 1023 444 1161 376 992 347 939 340 1148 369 1187 396 1007 484 998 370 1011 446 1029 330 926 608 1021 461 958 364 1060 474 1067 487 1099 310 868 610 1007 367 983 375 1105 337 1106 439 1092 492 1031 503 1119 402 1166 364 1116 397 1016 457 1139 444 1152 376 1151 518 846 270 1131 400 1176 357 1174 358 958 362 936 432 1178 374 1070 335 1078 344 1050 508 897 335 1060 346 911 317 980 403 1078 403 1090 472 1084 371 979 385 1122 403 1001 487 938 422 1028 440 978 515 1020 452 934 397 988 536 1038 283 875 309 1101 348 1093 324 1074 431 1023 456 983 311 1053 425 1120 374 942 378 936 282 1166 509 955 498 985 313 1031 471 1038 499 914 312 972 461 900 366 941 339 1046 530 1120 312 1053 481 1074 302 1149 524 1068 511 1175 482 1073 429 1078 379 969 412 989 355 1070 346 1149 396 1102 322 1004 300 882 318 951 450 1130 474 1077 395 1147 465 1162 498 1168 401 1054 454 962 339 1103 398 949 459 1035 331 1074 441 1132 476 1174 456 1076 452 1071 502 942 394 1095 372 1120 387 969 305 1093 360 933 333 1111 416 1073 396 950 365 954 376 988 495 975 378 1192 358 1181 410 1108 363 1074 429 1127 506 944 330 1074 482 903 397 1101 485 1199 402 1053 395 983 342 1136 452 1160 506 990 371 1115 455 1115 297 1020 451 1172 392 925 318 950 526 1042 464 1048 494 1051 661 1005 351 1161 443 1009 645 1097 491 1067 296 961 337 1146 363 1079 435 1128 383 876 326 932 292 966 459 1049 332 918 329 1010 312 1043 507 972 465 939 427 1005 474 951 468 1052 411 1042 327 1169 376 979 450 1155 368 937 288 930 343 1012 503 1063 446 954 452 971 624 1097 451 1163 369 1137 440 1060 405 962 309 1125 515 946 732 1000 324 954 682 1163 471 1048 458 1125 342 1093 495 992 324 1050 396 1138 334 1037 324 1175 470 956 404 1061 363 998 355 986 443 1109 514 1067 528 1141 309 989 418 1201 406 959 352 920 692 981 493 932 413 948 361 1170 463 1013 397 1051 374 963 299 1040 354 1082 458 1011 390 949 457 936 360 1185 348 858 269 953 365 977 338 942 391 1091 356 1107 282 1173 482 1091 329 1009 403 1096 492 1087 382 1039 417 909 313 1032 361 1116 350 1131 418 901 335 781 286 996 495 1060 396 1157 382 1116 384 1177 382 1104 415 1170 474 1174 450 1006 309 1034 326 1029 356 1161 525 1040 541 1164 431 931 657 999 382 1083 359 1085 510 1022 424 944 318 1197 387 919 322 997 300 957 318 1057 541 1032 393 1025 434 1085 356 1178 379 973 488 940 487 1023 526 976 308 1092 427 1106 407 1016 369 1016 318 984 481 1039 338 1034 455 1064 387 972 470 991 485 1006 328 1076 455"/><path class="b" d="M454 341 424 337 437 392 466 336 878 386 458 414 470 335 847 407 861 412 395 342 887 428 344 280 367 320 861 413 907 411 478 330 771 361 459 401 338 350 776 361 429 434 393 282 364 361 461 307 818 391 439 335 481 359 385 483 471 411 822 390 711 432 484 375 349 421 795 323 481 406 809 429 446 282 374 360 811 390 441 389 378 401 351 421 690 308 499 357 453 416 335 398 395 345 325 405 435 359 466 414 398 287 874 441 460 429 861 445 712 367 406 336 440 271 458 274 837 462 847 366 706 367 798 514 868 395 723 428 760 368 445 393 750 391 789 426 465 328 910 401 897 343 435 373 915 403 331 277 471 414 357 331 413 393 854 356 864 376 366 370 340 357 401 262 825 429 465 432 806 392 332 509 354 293 392 292 438 324 776 366 335 419 323 255 894 415 429 426 429 403 905 395 898 453 343 269 347 411 463 381 826 360 499 323 367 448 418 424 324 394 878 351 903 418 813 387 409 322 440 406 914 369 315 295 725 420 828 432 425 438 774 347 421 278 817 397 836 456 346 423 431 359 490 387 324 371 313 455 875 382 363 429 450 356 314 305 738 345 425 341 454 376 482 335 794 402 441 362 356 381 418 348 809 347 503 336 390 405 442 406 784 393 888 432 352 273 846 415 908 439 817 358 739 470 415 436 875 379 476 358 914 380 399 374 824 402 416 421 478 411 874 361 418 360 402 452 747 376 806 345 425 280 395 440 358 330 375 329 401 441 438 430 367 357 391 373 375 478 390 286 388 328 496 403 489 355 888 449 806 352 398 358 359 427 824 434 455 449 453 337 427 343 414 296 489 414 479 350 911 437 770 390 331 385 773 367 394 354 400 370 350 377 379 425 470 438 502 374 432 320 758 347 784 338 457 368 351 386 451 351 451 426 317 455 869 401 769 370 880 496 803 414 359 413 501 351 764 339 475 299 783 365 413 330 374 345 411 350 375 275 354 261 845 327 898 437 454 416 495 391 321 415 346 421 765 388 392 299 394 293 440 295 896 383 329 312 841 386 866 446 382 428 511 387 475 378 890 438 405 433 445 304 359 412 374 374 478 369 443 411 468 373 349 451 361 352 454 280 342 273 789 337 436 381 766 401 401 285 719 360 369 372 758 419 768 408 385 278 835 371 469 326 876 459 414 275 900 408 871 456 359 349 917 407 706 476 409 406 396 321 373 262 330 413 404 430 879 402 344 329 371 266 337 378 359 429 387 271 438 315 416 444 444 293 853 403 887 443 814 370 446 377 346 352 331 398 326 378 351 412 393 380 487 324 465 382 497 353 369 264 404 361 819 361 846 369 842 354 840 442 332 423 488 354 360 434 892 411 399 315 359 446 899 370 453 297 454 294 466 309 387 405 344 288 401 328 764 482 729 383 345 355 876 429 405 302 329 344 810 333 461 296 909 420 790 419 876 413 886 353 330 292 350 386 340 399 743 376 789 372 412 352 439 323 902 414 487 309 888 382 395 299 436 354 321 370 847 347 784 400 351 401 708 454 429 308 701 376 749 360 380 373 783 387 451 442 443 431 382 357 823 356 782 379 838 407"/><path class="g" d="M707 526 258 526 294 549 603 347 296 432 699 478 232 415 657 359 291 569 302 567 233 435 732 438 280 441 294 450 689 498 255 529 589 317 234 579 292 317 829 243 705 268 244 290 346 504 669 329 304 533 669 461 649 401 647 521 594 408 336 553 647 530 769 460 278 519 599 477 342 526 718 436 658 387 277 266 625 429 686 425 230 435 654 480 304 405 247 582 660 526 311 341 710 514 630 455 364 614 539 441 348 467 285 503 721 306 626 445 312 510 303 500 313 311 679 345 730 465 704 671 730 245 317 456 706 601 302 588 284 571 640 434 298 335 345 466 700 531 717 525 716 444 630 429 764 421 705 310 685 404 311 295 600 402 236 375 295 417 665 371 272 370 709 454 350 534 274 458 673 289 629 464 677 288 621 318 268 490 296 462 593 483 730 241 356 541 337 519 274 431 679 438 653 298 643 520 288 258 652 590 353 493 635 517 621 473 321 467 605 344 664 518 750 420 794 297 252 230 291 254 627 366 671 379 608 291 588 318 691 280 250 486 215 307 797 262 718 462 670 247 589 350 186 436 310 548 245 482 668 499 265 428 604 417 621 317 232 551 651 351 683 324 285 191 672 433 347 479 691 418 654 371 335 571 680 487 230 406 305 215 750 441 536 349 675 418 605 306 670 374 252 361 648 305 252 486 267 278 659 464 655 437 786 252 259 416 341 480 286 648 661 248 710 492 250 283 684 455 325 522 211 262 650 344 630 515 291 469 728 264 639 415 669 377 623 474 277 257 585 467 792 272 280 362 287 533 629 431 655 597 268 231 667 471 705 436 592 389 294 405 626 431 598 340 621 514 770 271 180 268 690 313 589 425 657 493 296 275 690 526 662 444 686 511 317 441 731 491 268 356 599 431 721 481 286 451 361 623 736 451 590 416 276 630 283 530 219 351 599 468 721 602 744 438 283 528 633 306 614 400 273 606 644 386 241 543 321 485 308 561 624 364 742 440 308 213 638 486 736 250 637 330 667 510 296 492 229 481 596 347 219 497 694 246 653 479 677 455 648 470 316 508 264 321 695 510 803 278 621 625 646 412 720 470 672 473 238 350 679 305 250 279 671 303 701 259 613 333 325 487 647 298 251 332 284 346 286 291 600 502 268 212 606 410 342 496 325 718 687 415 316 467 598 488 218 371 669 444 305 193 661 528 272 304 612 313 631 327 735 464 245 319 623 341 326 646 247 439 289 445 724 237 724 229 229 399 624 524 714 220 637 302 296 436 337 530 296 448 237 326 705 408 600 475 304 412 655 590 358 530 654 335 714 489 632 499 608 380 656 396 680 609 643 354 607 462 311 258 302 537 257 525 734 570 219 478 226 461 294 532 595 533 301 228 680 555 693 513 691 405 648 301 636 592 640 460 679 315 223 458 751 555 328 221 311 424 276 490 239 467 666 477 270 682 650 501 721 500 665 401 652 494 666 605 731 433 271 342 259 528 680 554 299 292 608 415 702 475 243 494 599 440 642 458 229 479 236 459 598 497 241 523 725 430 762 289 723 255 302 497 603 410 643 334 673 436 274 384 236 382 643 420 686 557 655 406 263 479 726 247 535 544 263 206 643 519 271 411 715 257 609 431 228 529 664 378 687 260 322 512 649 436 346 490 301 446 259 627 707 461"/><path class="o" d="M950 408 1046 491 997 552 1077 505 983 446 979 511 1159 336 1004 367 1086 465 1170 438 1006 400 1005 314 1176 322 1070 448 1121 305 1056 500 922 389 1170 394 1005 353 1112 379 1047 290 1134 515 1163 317 1136 476 1169 434 1108 311 1166 377 1185 395 1024 333 1155 467 1044 394 931 275 1146 486 1049 339 980 440 928 311 1002 403 1011 461 1003 424 956 355 1080 382 1168 482 961 572 933 598 1131 448 901 681 891 290 1131 372 1109 452 1055 674 902 304 1040 398 1091 448 1087 485 1128 370 1122 312 881 325 1089 577 1069 456 1054 351 975 315 935 310 1017 563 1186 525 1000 298 1001 508 893 304 997 467 1157 368 897 307 914 310 1156 356 844 294 947 479 973 526 1036 424 970 321 1163 545 1074 345 979 303 1154 486 946 459 1133 434 1096 415 1174 351 1153 500 1147 399 1195 468 1037 442 954 376 941 429 1050 449 1098 327 1112 347 1146 390 1086 443 1164 499 1142 342 1075 348 1102 362 1064 342 1068 507 1054 515 995 354 927 327 816 263 908 567 991 460 884 687 1158 424 1081 367 995 430 1154 409 953 488 973 337 1194 390 921 726 929 337 936 476 869 259 938 477 1117 379 975 287 943 443 976 727 1126 320 1051 353 1143 398 943 343 1137 351 991 375 947 397 959 466 929 322 952 470 1052 390 1139 456 1005 449 953 510 1116 490 946 341 1159 425 1008 531 979 466 993 342 890 326 1119 493 1176 491 1129 361 1120 453 1193 333 1077 661 999 499 1088 472 981 500 1118 424 1025 409 1163 452 1037 510 1160 339 1055 354 1007 451 1124 405 1041 500 974 419 1042 469 1133 386 985 346 1121 293 1002 386 1058 487 1075 317 995 486 1178 370 1108 342 1123 380 848 248 967 390 909 357 1168 482 1140 470 1057 502 1146 433 1018 407 972 409 1167 430 1024 627 958 390 1026 481 1027 399 970 363 1059 336 1004 424 891 282 976 431 1137 461 1139 451 983 480 1000 467 940 469 1076 463 1172 414 996 492 997 370 989 390 1130 425 1107 508 1170 469 1030 446 1029 457 1149 503 1178 342 1058 495 965 462 1123 509 1188 387 993 693 1012 509 948 342 1107 444 1179 353 1057 464 951 394 953 338 941 394 1121 383 952 388 1209 402 977 442 1154 309 1024 666 912 302 1128 507 1077 379 1113 440 892 257 968 437 1061 349 1028 351 1074 288 997 484 1031 488 953 319 1073 291 1047 436 1132 424 963 527 970 429 1071 366 931 329 1197 372 994 382 981 329 1005 333 1022 370 994 446 1037 412 1175 439 1011 501 998 286 1194 427 933 408 1076 447 1097 474 913 353 903 290 1144 384 1036 388 879 573 858 242 941 471 1194 424 1040 445 924 515 1031 363 915 337 961 399 1171 491 974 475 1131 461 1052 441 1183 438 955 348 955 312 976 370 1175 495 1106 438 1032 448 985 376 988 455 961 368 870 314 945 365 1024 331 1170 375 1035 415 945 482 1052 495 1088 321 907 339 1058 453 970 314 1108 309 1109 554 1057 583 1106 402 1190 364 1103 508 971 351 1129 352 1111 501 1132 314 861 451 999 439 1046 496 969 425 1028 402 980 340 1014 414 930 357 1150 471 1160 443 948 366 946 371 1144 506 1154 363 1113 415 1170 462 1146 449 995 413 1102 423 1017 331 957 719 997 414 1165 373 1086 379 1050 455 984 351 1127 481 1146 468 1089 392 1059 380 1073 508 967 423 941 410 1056 440 973 292 924 297 1087 472 982 395 1204 425 1059 327 1110 499 1028 567 1088 333 1005 282 985 504 1058 401 1035 506 1106 379 973 313 910 329 980 344 1074 325 1010 461 947 609 1032 394 998 400 1069 435 1041 498 1101 461 1102 379 1184 367"/><path class="b" d="M917 403 796 356 858 437 858 416 476 339 888 362 916 417 333 411 479 378 335 372 468 322 472 392 847 387 855 381 738 389 321 335 737 431 792 403 798 361 445 419 435 440 396 321 396 409 408 355 363 431 374 320 346 449 473 389 417 304 435 408 443 377 356 304 866 429 772 328 353 387 806 340 389 269 774 401 390 361 329 436 343 447 375 257 389 360 745 384 406 325 903 396 824 420 391 346 456 363 413 387 318 408 457 378 448 428 456 372 856 461 500 360 797 401 445 288 339 249 468 402 444 349 330 419 866 449 434 410 412 373 830 431 444 385 850 350 378 337 888 396 848 387 747 336 759 346 386 691 325 438 856 421 477 408 820 384 471 406 391 323 381 379 399 411 763 336 446 325 427 358 414 339 384 314 824 389 395 340 383 329 820 397 336 376 819 382 316 400 328 253 455 361 691 366 738 371 904 451 471 434 348 412 463 411 887 442 497 371 912 434 476 405 287 420 856 335 417 302 772 387 785 360 770 331 479 410 440 356 751 399 431 321 761 464 345 276 424 404 868 436 485 343 332 341 406 435 867 429 515 372 384 369 359 339 430 339 353 269 361 311 339 285 773 362 467 424 762 474 342 335 401 333 790 376 824 336 883 406 414 287 454 285 757 359 727 335 322 353 355 373 442 303 387 441 343 440 385 344 897 378 865 386 781 431 922 384 787 330 374 307 337 256 451 309 499 401 857 377 334 289 496 348 859 384 400 411 899 419 787 354 365 413 459 323 313 413 894 357 903 422 801 344 427 318 411 407 420 451 381 447 358 286 744 364 411 410 853 380 441 319 334 473 375 320 329 412 376 302 356 312 809 336 705 378 435 406 369 318 383 269 335 439 332 356 419 332 351 429 367 295 371 370 472 319 382 443 832 335 344 277 350 444 845 402 471 336 417 426 820 335 480 341 330 479 428 360 833 361 742 384 432 286 437 418 463 442 367 350 445 275 395 349 342 490 514 371 427 359 857 462 337 429 359 364 383 305 895 400 814 404 403 417 361 255 405 343 395 382 436 416 428 321 370 491 896 437 819 428 382 374 449 426 456 332 369 281 778 400 365 476 391 279 336 396 781 360 331 317 470 327 387 393 395 363 342 408 344 394 767 353 703 400 398 315 888 380 486 343 860 460 426 358 445 402 897 394 412 389 409 401 346 330 391 445 741 332 391 360 412 400 823 371 485 368 862 351 888 438 784 344 728 319 693 332 753 365 819 348 369 314 346 351 446 430 348 381 447 287 774 330 339 336 829 385 414 384 469 351 438 284 331 296 418 501 488 401 838 344 862 420 362 387 430 348 745 373 880 381 833 440 399 297 397 427 425 387 757 341 385 324 419 341 868 378 331 414 768 414 427 320 426 398 455 449 322 345 366 404 378 452 795 405 487 390 512 373 472 400 927 397 382 415 766 413 425 420 377 309 407 290 346 391 441 416 380 321 420 296 877 451 473 355 337 282 374 363 823 381 509 365 766 406 476 309 837 382 351 455 911 378 427 322 478 311 831 424 392 379 426 426 782 348 486 378 382 394 344 398 494 373 387 308 827 406 350 400 344 308 365 274 838 342 509 366 808 354 447 332 372 300 849 452 322 360 738 473 398 313 467 337 885 443 474 281 467 332 889 444 808 345 908 370 323 387 406 466 816 399 849 412 360 294 464 401 469 365 365 258 485 381 366 265 402 306 839 453 851 371 463 403 391 462 827 331 417 298 425 309 391 314"/><path class="g" d="M680 343 676 378 231 566 284 340 268 495 182 326 289 275 636 295 685 265 257 524 246 502 259 535 326 491 642 282 668 353 299 234 694 299 251 549 638 371 685 527 267 356 677 411 383 214 260 429 691 514 221 427 586 292 650 465 296 409 688 552 695 515 733 476 369 245 718 501 338 551 809 304 257 548 590 482 713 454 591 474 598 461 327 444 708 527 662 346 638 411 479 392 629 299 706 285 735 489 566 296 829 250 727 272 658 446 617 512 211 466 232 337 708 272 214 386 769 257 299 294 294 506 295 397 729 422 667 413 675 305 667 387 256 249 223 324 773 238 254 307 639 398 655 300 200 346 668 522 733 477 536 304 580 324 666 505 594 302 660 416 620 358 270 415 300 514 261 245 206 317 163 416 654 370 703 437 226 434 654 346 346 463 281 546 615 459 666 268 313 549 374 531 696 294 250 397 240 431 255 186 181 484 747 230 797 273 577 369 635 492 601 419 231 479 701 418 704 308 774 239 590 413 629 308 734 474 673 268 249 490 725 296 641 285 634 280 655 414 651 298 258 350 347 548 691 593 242 472 305 434 249 295 222 301 313 489 314 432 337 504 625 531 264 278 680 295 823 249 644 305 697 424 606 334 205 362 659 314 635 332 256 361 637 485 728 301 667 334 329 469 268 540 292 464 606 487 647 294 306 551 613 221 237 253 317 537 662 362 769 298 270 262 230 330 639 333 672 377 674 579 627 286 272 279 247 482 793 281 358 501 305 427 565 579 610 432 653 425 244 399 271 623 309 410 299 482 593 518 405 249 689 437 285 256 685 489 778 220 737 457 678 482 725 509 615 315 604 598 608 520 657 389 223 407 257 308 566 532 269 452 217 509 194 486 230 435 263 460 741 273 728 289 621 384 235 542 614 306 736 433 706 262 735 495 705 267 703 235 670 435 626 502 372 213 695 471 590 473 278 280 691 526 240 389 624 479 779 298 239 414 772 262 661 500 605 568 281 313 584 498 226 676 213 487 667 420 206 461 260 546 252 521 744 448 283 184 305 410 691 275 682 250 248 402 699 284 242 320 735 297 252 537 616 322 358 490 725 419 238 331 206 477 663 297 302 435 618 288 748 296 701 246 377 219 654 319 255 212 620 357 593 293 641 438 656 466 346 471 689 291 250 527 628 328 369 459 315 425 593 417 642 297 239 374 242 514 601 426 270 479 664 498 273 394 284 310 658 517 638 216 287 212 601 407 703 278 772 241 238 528 724 292 276 519 650 299 692 445 706 571 767 430 635 423 668 359 675 501 253 552 250 630 640 477 693 508 665 560 288 460 308 578 696 437 384 489 254 283 781 250 375 231 594 499 228 572 358 641 297 283 607 392 307 216 587 409 687 300 201 294 713 598 743 480 649 486 692 430 646 447 243 498 212 450 354 472 647 298 661 429 312 406 228 408 708 257 596 385 354 532 750 255 720 536 724 288 654 307 280 483 614 385 627 404 635 408 677 508 212 387 736 301 723 433 679 448 562 481 691 566 239 517 185 712 277 400 228 397 582 455 270 530 583 547 744 239 701 430 675 357 646 361 657 341 585 463 252 367 320 465 285 584 240 494 263 288 226 381 649 335 309 553 296 358 273 271 702 264 726 240 287 270 285 401 598 475 612 459 657 314 687 477 250 294 645 390 270 414 204 300 235 335 245 449 273 258 734 278 613 481 611 449 707 287 602 520"/><path class="o" d="M980 310 992 332 993 501 1107 473 978 475 1110 394 1152 372 991 561 1137 407 1156 410 1193 413 985 344 975 390 955 344 1075 453 1004 479 939 372 989 330 1122 479 939 494 1058 522 1193 387 1028 444 966 316 1012 402 946 387 1189 474 1094 333 1023 349 963 378 1069 354 974 427 1080 445 1116 311 928 351 929 301 1130 478 882 379 1053 532 1116 351 1126 468 1042 330 962 425 1112 494 1065 447 968 431 1025 388 1135 368 1142 490 1030 316 1136 374 1104 519 1196 385 1060 421 1041 332 971 465 928 301 1154 431 991 385 1001 301 1149 390 1075 345 992 490 1070 426 1074 463 898 251 1169 511 979 392 1107 413 1113 354 992 411 808 290 1074 496 994 418 1113 467 998 400 1036 485 1060 349 1102 483 1017 442 911 287 1048 306 1122 359 960 355 835 291 1091 468 1193 406 868 418 1142 359 1020 346 971 363 1076 352 1109 392 1068 451 1013 359 1152 501 929 502 1094 338 1146 410 1033 334 889 306 984 442 922 418 1091 523 1112 424 1200 342 1049 286 1038 371 1110 478 896 253 1161 457 1009 475 995 473 1106 504 1042 388 1124 390 962 439 1172 475 1160 363 987 388 957 400 1162 380 937 389 1028 457 1077 453 951 353 908 666 1133 479 983 316 1021 485 1094 364 1158 411 1049 412 977 366 999 506 1009 393 1063 503 984 459 963 425 990 416 866 333 904 330 1202 366 1079 488 869 240 1041 378 897 570 1084 386 1158 351 1177 375 931 371 883 237 1150 502 1096 368 966 352 1079 403 879 283 1057 507 1037 472 1010 273 1138 487 929 306 1000 473 959 485 958 380 923 308 1121 480 1081 390 924 327 1035 399 1166 455 929 368 1078 405 1037 291 956 467 939 391 1061 365 1043 527 1114 484 960 306 889 238 1056 390 959 460 1148 490 1110 410 1120 414 1076 420 1130 347 1142 379 1028 477 1185 365 1177 406 1031 407 1060 335 918 334 1080 473 1137 436 965 438 1010 499 1022 364 969 445 1058 384 966 442 1069 386 990 624 984 307 1015 453 1074 412 1184 363 1092 425 1060 524 1063 379 1012 382 1174 365 1049 483 884 259 1011 389 1114 415 1097 350 1142 515 1028 331 1199 359 980 488 1009 485 894 731 1056 358 1009 439 964 450 1075 513 1063 375 1004 444 1065 336 1209 399 1092 435 916 318 1152 313 933 368 1139 509 1107 473 1118 350 931 322 1137 455 1167 406 1202 400 1196 399 1095 481 1181 398 970 478 925 358 996 345 1022 334 987 377 1097 468 972 534 998 346 1178 434 1209 389 1024 374 1137 322 893 331 894 373 956 312 1175 497 905 280 982 531 1145 370 944 319 969 290 1016 494 988 479 1167 464 1148 486 866 267 1126 401 1188 437 1074 489 947 385 1115 468 1187 458 889 298 1181 440 1164 414 1086 506 1213 352 1076 359 978 367 1188 409 1045 322 1134 517 992 481 1207 338 989 401 1184 449 1161 475 1095 429 1074 344 963 335 1074 377 1127 405 1024 325 1176 456 940 391 1142 463 1163 365 987 319 1030 475 1066 538 992 292 1032 598 1171 500 1200 393 1156 494 937 454 884 319 996 436 885 274 950 421 1043 415 1147 495 1026 368 1014 423 987 449 929 375 1053 403 1101 475 991 432 944 303 1130 365 1118 389 1063 452 1095 492 943 345 970 525 1020 581 1067 416 1010 343 884 725 1093 405 1025 500 1028 454 892 314 1187 389 1011 364 972 311 1020 497 1036 451 1198 368 1170 475 1168 368 950 309 1103 500 974 379 1041 478 1019 442 1071 443 1197 382 941 289 1176 359 1129 329 1178 344 1039 495 934 294 1023 428 1176 472 1127 410 1116 398 990 373 1170 418 1107 484 955 403 888 433 1184 474 1046 347 982 413 1116 424 1051 478 1204 375 1061 486 944 438 1112 389 959 551 1002 536"/><path class="b" d="M362 254 398 323 454 295 741 357 358 334 399 268 395 334 814 404 895 401 699 462 377 393 317 346 467 296 379 322 449 436 771 439 369 397 706 351 914 438 335 339 766 373 320 284 843 330 478 360 918 434 859 461 467 292 324 424 739 361 885 412 334 291 348 407 397 418 415 332 444 387 894 383 820 350 445 360 372 409 389 461 876 448 806 352 847 355 423 388 419 366 457 326 503 336 822 354 832 406 839 414 432 482 410 397 857 407 358 301 811 374 839 336 830 444 389 263 392 455 921 380 353 298 516 365 365 646 492 407 854 452 847 444 880 403 430 389 693 370 379 338 491 344 793 400 465 419 312 346 869 422 450 329 888 352 831 447 721 442 910 388 392 439 400 454 459 385 882 415 748 345 752 434 436 470 837 421 365 359 822 409 758 441 384 425 361 301 836 340 879 341 358 338 746 363 507 393 364 280 846 460 469 408 798 346 814 372 422 328 865 388 420 316 808 363 734 329 457 405 881 373 346 422 879 403 924 422 440 320 360 318 407 344 912 373 764 348 460 359 359 375 404 306 781 416 929 378 839 451 437 321 434 432 761 390 459 279 322 419 350 367 436 309 469 357 403 276 426 415 895 437 342 301 473 422 900 419 405 281 360 279 318 258 344 252 788 385 887 414 396 354 457 316 323 422 739 385 338 260 424 342 848 445 351 368 385 326 797 323 904 428 443 361 489 306 409 348 395 358 357 285 407 277 851 409 344 445 417 392 852 386 818 444 900 417 890 429 728 469 395 395 384 312 414 273 897 404 760 379 343 303 366 298 465 287 331 302 835 353 422 386 336 308 392 348 372 307 787 379 857 375 318 297 795 360 423 430 815 331 453 293 858 384 449 396 797 424 833 369 779 398 411 394 411 380 393 291 793 375 338 336 692 353 346 312 796 420 424 424 439 299 832 331 755 342 811 381 381 315 423 409 418 360 441 382 807 434 478 345 848 449 361 329 837 420 868 380 911 413 840 332 433 425 331 377 875 429 368 388 788 412 483 317 871 443 436 397 409 361 447 423 467 365 453 333 360 341 849 446 829 387 371 447 889 367 811 338 883 434 815 410 433 328 725 418 385 427 446 371 386 361 358 374 463 299 833 329 441 285 790 386 422 342 799 327 883 384 786 347 496 340 334 468 395 386 462 374 893 387 390 305 440 395 327 384 690 429 386 378 435 314 746 324 495 335 905 443 557 394 334 380 867 355 473 343 436 322 353 277 493 373 873 359 396 331 338 373 362 400 892 375 807 425 763 377 839 395 324 366 420 396 513 361 353 364 415 293 387 369 894 362 802 356 515 376 383 441 380 300 387 310 417 444 403 300 446 318 835 457 365 305 744 329 346 257 746 362 910 360 440 391 721 414 891 348 839 424 358 313 808 366 905 438 342 446 789 377 415 355 341 404 388 304 824 375 835 431 355 340 823 335 715 401 367 505 372 444 322 331 809 387 913 424 719 477 793 365 397 422 464 434 324 382 829 318 740 356 357 274 746 340 814 437 888 463 441 504 365 372 429 323 777 386 894 409 866 458 853 388 384 368 318 633 827 374 877 380 443 439 395 278 429 374 864 359 419 391 760 346 881 386 425 354 826 366 913 438 786 360 461 342 491 380 761 375 875 445 562 324"/><path class="g" d="M661 350 287 428 168 533 727 464 814 245 249 506 337 530 672 306 326 346 338 457 162 266 553 319 703 455 682 296 236 370 738 451 636 492 695 290 639 473 318 553 654 393 263 507 603 441 671 413 284 495 299 547 385 597 693 386 271 482 704 576 644 420 597 536 275 402 725 434 306 414 277 549 672 520 432 534 149 319 719 564 242 472 304 375 719 479 549 509 707 420 260 359 249 442 270 436 614 500 243 390 779 209 310 414 223 353 323 548 666 529 278 399 276 198 723 285 756 587 683 398 636 329 235 517 369 657 624 393 655 534 616 387 742 277 609 489 277 468 636 278 284 242 688 287 244 386 248 613 647 359 229 486 277 469 720 579 662 522 214 271 632 325 307 574 205 488 385 495 694 545 188 440 717 287 604 416 283 305 283 256 319 563 633 412 681 518 680 435 352 523 312 538 776 465 329 505 214 474 352 483 231 423 710 501 591 300 732 306 745 446 650 402 277 351 633 460 246 402 624 309 625 464 250 428 189 534 669 295 294 489 602 507 660 705 666 338 652 332 737 495 675 438 675 497 616 295 677 341 762 277 380 577 577 385 328 488 791 297 690 421 195 371 595 308 654 524 609 619 597 351 737 255 306 576 665 426 589 376 679 313 686 507 604 459 256 448 680 438 380 589 259 251 291 550 636 352 602 465 666 407 727 259 238 456 220 645 603 414 672 355 233 415 358 464 280 386 738 434 230 570 633 294 268 398 300 355 599 401 310 498 693 516 198 419 350 708 315 470 684 301 711 602 286 413 671 526 295 196 649 478 284 539 763 265 253 670 700 424 534 300 240 464 297 638 598 493 689 720 282 394 334 250 251 660 639 242 678 446 620 332 246 496 307 429 705 516 306 427 282 217 260 437 587 304 327 556 727 477 581 586 214 601 674 437 268 212 592 334 640 478 712 491 272 419 619 393 731 276 270 239 575 336 608 381 660 352 772 487 408 243 666 328 314 345 727 482 230 407 630 484 669 295 309 533 635 423 300 492 726 476 670 305 753 538 639 477 602 417 222 568 279 487 614 363 361 510 581 291 678 379 723 556 273 587 278 442 616 595 726 296 769 223 623 374 608 423 659 467 239 573 301 624 713 421 366 578 256 418 607 321 190 336 275 529 294 257 217 456 540 566 357 212 309 366 645 345 622 372 703 285 793 278 235 451 268 522 626 569 268 326 216 433 298 263 650 568 348 536 602 382 669 522 621 301 262 544 211 496 319 503 675 424 655 329 631 500 231 455 602 437 687 557 267 273 630 513 622 617 732 277 592 396 639 433 610 453 290 313 597 426 679 422 252 439 719 315 709 296 332 224 533 236 619 481 271 540 284 178 630 519 365 554 230 314 719 477 680 373 670 422 711 434 251 435 669 425 612 324 620 308 714 519 284 300 335 522 311 459 182 690 681 318 607 298 230 620 629 485 265 497 628 375 728 558 638 395 628 262 246 744 272 318 728 482 595 364 243 481 199 326 336 478 335 556 332 583 572 334 773 251 632 267 621 382 301 502 713 420 554 574 623 355 668 454 259 530 256 414 738 294"/><path class="o" d="M808 308 1209 488 999 291 1132 470 1168 406 966 565 1050 341 955 366 1186 361 885 222 972 297 1036 313 1020 707 964 481 965 385 1036 521 960 389 1173 397 1196 396 1168 331 1033 383 1092 303 1004 329 1114 408 1160 429 1040 482 884 313 1098 388 948 324 1126 504 938 309 1071 555 1018 426 1150 370 903 316 1078 430 1182 356 961 396 970 383 1179 413 1001 361 1101 509 1100 488 929 460 974 357 1189 362 1026 429 994 438 1109 377 908 421 997 338 1114 440 1172 412 885 354 969 385 962 414 990 335 1166 483 982 385 925 324 1053 382 1192 347 1153 474 979 328 946 415 1058 360 1089 443 1021 498 1161 352 980 514 1159 417 1117 385 876 279 1165 407 1016 396 1080 487 1019 415 989 375 1085 498 1144 356 1052 542 1058 335 1118 389 1070 438 907 597 1147 337 1113 395 1196 378 1026 333 1019 429 989 290 948 298 1133 308 1111 337 1129 509 1111 358 1026 280 1178 352 1081 347 919 342 1175 442 959 692 1097 375 960 479 1126 340 980 476 1068 330 1004 462 1091 345 1163 498 1108 489 1062 318 1175 395 1030 365 1027 282 1004 469 1181 477 909 345 1141 470 954 569 1036 344 902 562 1041 474 983 414 1011 490 1166 488 935 289 1169 501 958 376 1174 426 872 240 1077 539 1009 503 1164 478 936 397 1121 346 976 366 868 261 1195 451 1068 325 1090 420 994 518 1165 464 1017 395 931 384 1077 470 1021 367 1190 398 1062 478 921 332 999 488 1050 490 1017 484 975 441 903 337 1113 521 931 372 989 409 1017 328 1117 547 976 497 935 318 933 417 984 299 1152 464 1186 477 1083 341 1174 452 1055 405 1027 342 927 371 1143 450 1164 386 1048 364 1154 446 921 286 1171 436 958 479 1054 439 1026 465 966 430 1174 367 1127 381 1096 331 1009 503 1047 532 1135 437 1148 442 1087 308 1164 496 984 319 936 295 1042 519 1011 322 1078 386 1012 454 1162 462 1020 501 969 516 1049 318 1142 417 954 376 1142 350 1001 319 1153 357 990 320 1012 272 1008 317 1076 477 970 494 1066 433 886 231 1100 392 1116 515 1020 477 1052 365 1040 430 1077 413 1001 380 997 421 979 279 1040 299 1030 546 1066 482 957 452 981 611 1029 405 1023 404 872 352 1154 364 1113 405 1092 517 1126 485 985 467 928 347 1150 435 996 403 1005 469 1008 367 1026 464 971 418 997 543 1057 313 1068 457 1030 457 1001 367 1111 431 923 341 927 350 919 319 1139 335 1000 316 1153 542 899 275 1120 487 968 529 959 396 1076 363 934 304 1085 422 1035 311 1167 424 971 462 1034 362 1129 353 953 703 910 281 960 402 1112 485 1048 369 1052 468 1151 358 1101 454 916 318 1105 437 1134 375 1111 328 1011 514 1168 507 1207 397 912 337 1015 401 1002 413 951 457 1127 484 1012 493 1177 499 1078 314 1038 497 1035 356 1161 443 1053 465 1143 391 916 383 808 276 1131 487 939 486 1034 465 966 336 1016 431 957 432 1048 376 1142 314 1003 506 966 682 955 407 1158 416 951 684 1152 362 957 315 1024 476 1063 492 1197 372 1106 336 1006 348 1084 442 1002 495 966 440 1041 352 959 405 942 405 1046 494 966 342 1067 396 894 220 1091 508 1021 494 954 477 1033 282 1059 499 1112 358 1184 328 1027 336 1128 433 982 410 1203 393 898 342 1076 402 989 336 942 435 915 351 1074 300 960 408 1132 366 1146 389 1028 413 1194 420 1141 477 1113 342 1094 473 1080 360 1031 504 1154 438 1012 500 1138 486 1138 498 1041 323 955 451 1024 364 1119 502 1009 386 1060 479 1090 518 1098 448 956 476 913 331 1024 499 1169 506 1018 509 1106 322 1045 340 970 351 1001 419 861 272 955 472 1185 405 1067 396 1106 380 1164 506 1061 460 1154 354"/><path class="b" d="M798 432 878 366 787 399 889 369 842 420 848 374 494 358 773 407 488 319 367 514 489 315 359 278 434 267 748 393 459 394 389 458 320 392 432 396 782 404 407 447 813 345 333 446 492 396 417 413 411 319 437 307 884 345 427 364 352 261 771 404 437 308 828 423 832 431 450 311 707 339 381 295 384 259 348 383 825 380 842 383 371 258 397 430 338 266 791 425 869 440 507 367 373 421 873 403 858 344 895 396 476 314 404 421 436 280 454 407 364 311 353 309 370 314 784 326 861 386 817 574 419 292 828 372 478 327 498 393 420 270 418 472 424 280 483 410 485 386 369 319 410 426 386 411 431 371 507 358 499 382 885 463 482 337 752 329 921 411 369 417 494 369 788 352 430 515 435 341 380 349 768 331 918 424 501 335 909 440 785 367 843 362 387 380 391 399 441 277 348 392 315 350 407 396 453 411 780 334 440 286 373 266 413 391 421 336 836 425 389 263 925 386 872 413 360 375 357 344 454 335 889 420 376 485 467 334 442 384 417 282 700 379 840 440 881 368 489 384 358 414 765 351 391 335 478 317 392 342 745 439 873 346 393 395 832 447 394 270 919 363 764 368 706 468 354 418 724 494 345 363 896 356 905 376 834 342 352 344 436 325 336 281 346 298 504 353 708 367 708 356 466 288 826 410 322 365 877 416 373 410 820 461 842 434 436 404 384 342 337 399 357 392 398 430 441 377 483 364 531 377 402 395 429 392 343 383 824 335 862 368 853 332 851 376 896 436 433 372 788 670 881 387 445 436 356 302 395 446 400 312 770 338 376 429 776 409 257 413 862 371 441 358 455 336 753 397 350 627 397 299 793 412 753 393 324 373 735 376 404 353 337 349 769 397 388 271 389 435 847 434 325 397 385 375 338 311 425 320 906 426 901 402 713 377 389 297 495 392 316 386 840 403 389 426 360 360 755 326 410 312 329 317 408 299 775 385 873 350 439 281 815 356 403 471 386 282 805 396 331 272 449 399 442 410 711 326 843 442 409 305 352 329 331 437 349 415 330 503 380 374 450 381 834 423 463 349 425 336 852 357 430 354 884 434 326 423 382 444 352 442 916 420 379 309 855 431 451 356 494 408 381 403 472 385 383 304 386 424 479 324 839 375 392 452 482 339 866 368 365 332 403 375 329 346 746 425 887 435 347 270 504 377 454 422 901 401 434 366 475 429 856 374 907 381 327 382 456 372 765 380 871 387 863 404 913 390 848 456 360 294 405 477 447 351 394 432 737 380 893 370 748 392 910 380 744 354 851 340 323 409 385 433 455 338 858 362 795 629 369 399 902 424 458 397 443 318 398 343 716 320 483 329 353 327 392 330 478 334 358 266 826 399 872 440 840 397 399 332 455 383 802 383 404 303 391 459 401 338 433 387 822 369 348 372 770 320 352 385 369 625 866 464 378 456 342 446 479 397 330 326 441 309 400 440 386 357 354 502 781 447 381 271 902 405 836 457 712 319 344 315 829 437 425 272 400 320 757 373 458 293 490 416 763 327 386 389 801 378 442 276 862 432 277 265 816 409 508 379 313 284 343 382 329 372 463 318 430 291 489 383 393 353 352 420 875 340 424 457 725 336 375 318 457 298 374 443 345 383 365 303 475 455 414 285 797 398 829 416 897 353 837 409 351 418 394 472 347 437 823 390 877 435 430 479 389 386 408 433 892 458 900 434 842 459 833 423 441 299 476 407 740 379 375 431 474 304 752 364 503 377 863 355 764 396 417 412 897 427 842 417 392 317 504 336 889 400 372 330 482 331 452 318 446 291"/><path class="g" d="M601 393 188 553 328 247 353 177 280 270 764 273 604 363 297 469 674 332 639 407 216 608 644 391 640 468 689 441 255 219 299 255 677 255 357 486 722 242 237 444 353 481 344 527 678 629 308 537 257 402 212 558 593 309 231 436 289 440 661 294 319 481 720 521 595 368 764 228 225 403 583 401 315 511 210 439 790 249 700 600 585 344 738 310 360 503 691 466 271 360 315 439 300 427 667 326 234 459 188 584 616 517 216 427 264 446 311 367 250 516 286 517 254 407 229 434 694 478 353 489 614 240 284 435 707 442 257 459 636 432 276 557 293 522 371 230 599 393 592 407 245 346 188 311 316 194 747 443 302 411 714 489 644 493 638 503 328 205 727 293 298 292 710 622 489 327 775 246 629 516 312 315 595 342 579 324 598 352 792 251 257 466 302 402 687 254 350 198 269 230 288 253 606 487 262 561 686 286 361 205 309 565 601 441 691 475 659 309 633 467 703 484 236 495 661 422 721 477 599 449 281 451 269 252 624 373 614 357 692 508 276 544 305 409 732 289 651 408 740 306 323 556 594 728 675 362 630 458 655 332 284 244 591 429 667 247 704 502 736 507 663 376 637 417 618 527 670 460 638 367 326 463 754 458 305 538 602 377 291 266 598 452 255 371 769 291 267 524 714 443 588 332 658 300 650 322 308 235 651 520 340 556 666 362 652 536 625 482 409 212 263 545 565 446 652 444 676 505 262 392 586 418 634 271 310 573 690 450 232 526 351 500 285 408 652 502 231 413 297 484 612 320 710 294 291 344 231 429 217 704 709 507 778 258 672 401 664 208 616 376 343 627 295 494 350 675 234 325 335 477 329 541 233 627 676 474 177 469 268 405 254 307 244 302 703 416 613 413 712 453 655 572 583 409 322 516 301 484 698 456 215 287 291 321 243 223 607 315 328 533 328 503 607 290 284 266 321 521 252 425 680 335 605 441 285 610 202 326 697 524 732 417 208 437 301 483 735 501 223 434 239 371 636 337 267 459 239 475 304 331 606 397 299 435 666 281 667 355 351 495 620 544 632 305 363 519 607 309 611 329 217 482 715 522 647 374 322 221 268 591 231 409 717 493 264 574 306 545 254 509 283 539 301 216 361 673 708 508 711 292 645 490 600 290 275 268 662 498 672 520 154 268 692 575 317 420 253 290 661 497 217 414 213 403 694 489 247 248 276 534 730 433 731 509 293 544 690 258 612 455 722 486 223 557 615 449 710 240 690 254 383 531 321 487 547 337 611 437 261 231 346 526 658 273 750 289 349 208 240 262 331 441 668 306 707 488 299 505 614 612 312 491 262 337 584 396 217 482 589 590 729 505 690 356 680 276 634 277 278 265 410 259 743 453 226 550 673 390 267 526 689 310 332 500 610 454 733 474 684 497 309 260 280 345 276 397 600 458 589 335 662 412 228 507 244 466 669 390 697 412 328 574 511 540 612 296 340 256 698 460 258 355 745 298 721 554 315 504 731 524 201 352 197 341 740 531 309 521 640 445 309 543 604 352 727 262 767 272 581 305 676 299 252 390 732 460 628 482 590 449 305 550 301 487 704 268 713 295 601 401 687 440 196 296 655 294 682 317 755 417 704 422 250 437 689 511 730 429 606 434 652 339 632 277 249 271 652 262 256 545 331 477 680 478 702 422 279 348 263 435 262 495 602 322 632 284 404 255 702 412 272 487"/><path class="o" d="M1184 373 925 365 1113 516 1070 398 983 425 1074 381 1072 381 990 326 1011 443 994 356 914 307 985 329 1154 490 1140 378 979 343 915 418 998 388 1037 502 1056 398 1060 481 1158 442 1127 491 1101 507 1150 473 928 330 963 275 1058 460 1079 409 1006 433 1113 426 988 436 1187 437 861 226 1167 358 1138 515 1016 437 970 410 1131 528 1008 376 1128 344 1130 357 1098 385 963 494 1076 672 947 328 1011 448 1020 469 944 446 1083 380 1074 327 1056 326 930 332 1013 414 913 459 984 325 894 317 920 538 965 325 1031 306 1173 372 1002 301 1176 337 1067 363 978 376 1122 409 955 439 1151 327 1086 433 1011 551 1036 494 980 415 1029 365 1018 494 1133 479 1146 518 1076 378 949 486 1108 369 1029 452 1054 298 1082 467 999 299 1110 450 1161 491 1107 348 1089 453 1188 396 1157 333 1083 375 1115 499 1053 360 1053 312 1121 484 990 400 954 364 1144 454 1112 452 1187 402 1118 433 960 310 1185 350 1077 331 947 421 1144 511 1019 473 1163 448 1023 280 942 513 909 325 1070 484 1067 426 992 461 1131 515 947 463 1114 350 973 353 1136 501 1170 377 1148 452 1021 336 981 503 1191 367 932 324 892 316 944 472 1028 430 976 303 1119 464 1031 370 1183 443 864 302 883 297 1099 335 1070 492 978 455 1016 579 1053 448 1044 371 1142 520 968 413 1072 323 1016 376 1040 299 1005 461 940 309 1050 406 1172 379 1092 364 1152 487 1047 506 991 478 1100 369 1045 324 885 325 1115 426 1093 482 1167 498 1180 375 1047 402 1132 483 939 342 825 297 1119 437 1103 356 906 339 953 458 1030 470 1095 494 1030 437 1116 438 929 632 897 293 1131 339 1040 324 1102 371 1097 495 990 348 1094 351 985 509 949 416 962 466 935 318 1034 475 970 491 1056 322 1170 456 1052 308 1003 453 1080 358 1002 337 992 437 1180 438 954 369 1053 520 1112 406 1009 433 1124 460 1159 475 1067 474 1103 390 997 404 1083 373 1089 549 1119 512 1132 404 1019 373 878 313 1156 445 1184 393 1182 501 1139 325 1089 727 869 317 1118 357 1151 497 1068 496 1002 392 1065 369 966 435 1181 430 1178 384 997 482 1018 433 1178 500 995 516 947 375 1189 418 1126 479 1148 314 958 435 1022 410 1009 361 1139 345 996 514 977 365 1203 435 1198 399 1024 321 1109 489 1124 367 885 291 1030 324 966 451 964 468 1098 335 1079 450 1102 506 1071 295 1122 426 968 432 970 373 1120 457 1173 523 991 346 832 274 925 575 1084 386 939 448 950 548 974 477 1149 333 957 533 864 271 1064 315 1049 435 1051 381 1038 659 1177 354 977 399 1070 540 950 462 920 310 1115 416 1008 504 1014 498 1035 450 980 496 1109 436 988 422 1171 511 1020 531 1096 465 1045 383 1119 450 1010 491 1180 477 952 369 1028 418 954 286 1029 464 1094 404 910 341 1104 496 932 308 1018 331 1098 408 1019 410 1105 505 1112 491 999 600 1170 382 1091 327 1148 491 1028 417 1103 481 1025 399 984 307 1144 394 1100 371 1048 505 972 464 1167 302 1134 332 1061 369 1103 318 1107 433 948 430 1017 293 1032 375 1125 419 1143 338 1028 365 1142 314 971 504 947 498 967 430 1092 354 1079 365 1192 420 1168 374 1011 479 1134 368 1186 407 1186 331 1126 329 1158 399 1170 412 1089 489 1175 410 1089 368 1154 479 1044 381 972 494 947 273 1011 502 1016 404 1072 435 949 355 1107 471 1141 375 1168 428 1194 483 1007 314 960 415 945 496 1018 460 1118 435 974 412 1157 446 1018 312 1096 438 960 321 1024 424 1002 456 1057 298 1098 482 1123 425 966 379 1111 325 1094 359 1070 460 936 699 1137 458 1001 442 990 434 1173 393 1129 533 1170 426 1062 394 1058 525 1102 326 1030 341"/><path class="b" d="M812 433 405 283 441 382 484 405 346 476 373 340 335 284 782 414 892 365 384 440 813 445 898 380 512 363 321 299 847 407 835 359 419 299 803 345 456 401 883 411 343 258 422 386 355 257 751 325 497 331 339 368 794 334 457 444 368 432 899 414 414 260 840 358 416 432 785 368 472 421 475 405 392 293 351 288 818 428 396 408 427 335 357 281 852 423 434 440 795 375 371 266 833 445 776 392 394 333 861 449 809 352 907 388 349 427 841 353 361 323 351 410 325 356 452 370 824 511 788 429 897 411 889 454 822 380 836 440 799 328 442 432 447 316 843 380 509 350 857 401 756 345 774 600 835 367 355 297 373 408 842 400 724 468 892 362 439 364 428 383 847 332 764 331 423 366 366 314 343 322 346 324 376 352 916 427 515 366 412 339 443 344 743 359 365 312 476 306 474 325 347 315 843 395 422 323 496 387 240 249 760 348 459 317 497 400 480 421 792 396 329 355 397 279 380 405 806 349 823 424 365 267 397 352 362 361 328 283 874 362 473 406 397 311 413 316 420 413 324 373 329 361 408 424 330 472 446 283 317 448 842 375 806 339 325 423 327 242 465 422 417 278 913 400 428 362 331 446 774 336 460 353 916 392 750 386 826 364 405 311 380 357 343 290 385 400 346 367 478 303 450 321 359 377 460 348 421 420 407 293 706 455 408 269 399 341 879 341 462 417 841 413 503 383 837 378 824 392 328 341 874 340 470 382 851 462 482 398 470 314 828 362 337 433 800 334 781 389 870 471 433 279 363 408 873 378 462 310 365 351 373 386 421 432 743 417 852 375 811 336 424 273 729 349 787 340 481 402 388 450 495 350 425 379 449 464 447 338 839 449 858 438 330 332 406 318 501 374 847 396 790 419 377 419 448 446 449 395 842 404 475 335 866 401 319 267 458 302 484 298 855 360 491 323 344 386 330 291 434 398 802 412 876 350 316 364 459 377 474 376 341 416 368 424 322 448 422 333 359 265 390 305 456 427 380 436 374 306 917 402 864 400 830 623 417 348 877 394 327 473 889 464 811 370 758 347 707 321 353 380 504 389 882 420 414 297 500 337 824 415 846 448 772 338 840 360 455 420 400 370 473 435 785 395 735 361 460 421 479 354 356 382 785 445 872 366 467 371 819 413 345 365 742 394 867 402 750 360 843 408 440 432 827 368 878 453 448 442 843 444 915 386 877 344 384 381 402 389 729 354 387 421 846 355 398 316 477 418 885 361 323 424 376 290 368 270 337 330 350 438 380 263 852 445 456 298 853 449 753 360 903 393 389 362 321 346 715 315 347 374 408 372 471 293 827 380 338 396 345 352 458 267 408 385 832 413 776 321 425 272 908 363 445 317 398 344 838 421 323 430 832 423 811 353 895 383 720 449 343 276 314 366 398 420 378 307 333 358 347 374 375 264 915 438 462 402 316 383 699 370 399 329 395 314 788 653 864 348 792 470 897 364 338 428 357 400 702 358 321 324 840 436 494 367 908 376 389 346 765 329 497 391 413 295 472 335 885 440 885 436 367 290 442 343 426 288 382 378 434 348 793 390 820 353 857 397 388 279 834 408 357 388 434 341 737 405 770 364 719 348 804 412 374 410 420 442 379 382 782 394 692 324 814 400 420 276 877 354 431 289 348 432"/><path class="g" d="M309 268 781 456 584 353 250 409 234 393 301 470 602 433 636 244 298 316 283 179 303 546 265 260 214 506 283 547 688 257 351 514 221 360 673 526 286 212 746 292 278 446 643 380 626 306 674 384 267 469 722 447 689 295 245 450 220 302 246 626 608 540 206 367 610 439 634 521 341 529 619 223 609 387 309 600 655 432 295 278 249 321 704 459 241 404 432 423 608 519 659 378 672 528 352 474 729 278 261 495 670 403 650 323 584 439 671 368 602 306 742 261 641 348 326 222 297 509 611 374 224 432 254 407 306 256 615 292 370 493 712 294 277 269 302 269 762 256 304 524 629 528 281 512 303 263 302 468 673 306 666 435 615 407 286 427 590 392 626 314 380 235 700 472 724 423 211 591 296 272 316 254 226 417 567 198 309 496 733 299 244 302 605 359 714 497 239 450 322 493 728 310 766 239 634 526 684 355 739 458 701 577 704 232 591 502 269 550 692 461 331 502 297 571 606 413 305 342 775 235 731 292 257 469 650 493 293 518 315 294 672 242 753 439 682 301 711 502 724 296 644 207 763 232 634 412 634 270 740 424 342 461 686 633 621 276 603 423 710 283 259 609 656 426 595 397 733 478 319 635 638 285 657 516 277 358 725 474 514 357 592 244 678 527 632 506 669 297 710 559 779 248 684 469 644 401 659 322 615 361 273 514 233 550 236 496 654 422 746 286 591 445 288 214 602 364 243 267 336 571 228 229 232 447 627 422 236 464 683 298 334 571 625 491 244 374 393 480 658 319 636 442 667 432 636 423 158 370 331 503 660 339 295 494 541 438 727 282 657 518 393 196 256 746 321 497 711 441 378 639 275 301 288 357 754 482 607 300 211 575 322 459 231 474 331 584 180 479 227 299 354 533 262 298 707 257 314 322 274 248 644 700 494 559 273 548 621 327 649 267 672 425 575 307 345 541 297 502 642 353 233 332 654 512 669 402 688 445 276 423 305 433 229 524 596 351 632 278 213 365 665 397 224 412 318 446 215 564 244 407 329 495 693 532 286 281 765 304 597 379 613 521 255 475 357 519 767 228 649 359 648 480 716 423 706 286 670 380 317 458 273 433 619 316 648 276 590 403 624 314 386 465 657 524 321 662 248 505 594 317 596 558 696 691 286 511 699 296 228 302 192 590 291 566 229 421 683 326 727 275 304 427 706 254 623 624 193 499 727 268 205 486 612 497 644 492 717 449 612 315 676 330 308 477 299 321 674 371 710 487 670 377 609 327 583 287 724 298 589 481 244 525 664 367 680 297 483 545 243 357 748 468 721 289 247 446 780 428 671 294 596 378 267 204 225 669 683 418 710 297 632 359 278 244 682 319 289 462 652 351 603 498 290 386 261 520 262 499 178 568 638 501 699 465 712 495 292 567 686 414 625 223 716 411 825 268 585 385 635 394 660 320 593 361 687 408 683 472 712 222 230 311 333 543 676 458 249 480 331 630 294 541 705 533 171 529 276 691 269 438 695 430 717 418 280 274 209 515 444 207 604 366 645 467 638 313 299 552 656 410 778 260 687 491 265 463 280 232 630 288 708 499 671 524 233 471 683 294 747 480 290 457 215 573 293 412 662 363 601 365 694 474 596 525 667 556 606 314 648 502 572 562 607 352 653 458 674 472 719 299 718 442 687 236 701 449 271 536 593 418 237 339 586 274 284 586 285 385 700 274 610 609 631 436 303 467 231 426 233 387 653 378 691 529 273 399 288 411 251 259 243 489 228 448 650 297 594 476 642 477 175 480"/><path class="o" d="M1090 469 903 283 1000 455 958 498 865 240 979 292 1112 479 1174 486 911 323 1139 343 1066 295 987 418 940 522 1161 401 1176 509 993 418 1006 439 869 372 1161 402 1160 332 1007 355 1093 343 1084 507 952 687 1145 492 973 430 1126 449 1119 498 839 308 951 457 1033 732 1091 486 969 280 1054 440 959 594 1001 508 1118 403 1124 314 1124 470 1076 505 895 289 1041 443 1175 392 975 387 989 290 1073 340 997 366 992 449 1088 360 1042 396 990 361 1115 470 1034 292 1021 390 1141 499 1112 502 852 433 1005 609 922 343 1124 394 937 274 954 381 1205 428 1149 375 1012 509 1073 320 871 323 1128 512 1129 442 966 418 982 309 1109 466 1087 499 916 451 910 686 923 528 977 456 1005 407 1188 356 938 426 1160 515 896 275 1017 410 970 311 952 327 997 552 944 362 990 499 1021 329 939 413 1038 466 1208 375 868 235 1159 480 1007 343 1018 476 955 353 996 442 1017 461 959 317 1188 429 1139 438 1086 377 1107 365 1009 420 1124 498 1141 320 1016 366 1075 456 1118 373 983 486 1075 463 1110 352 970 327 973 411 1071 500 852 264 1076 482 942 468 1042 379 920 548 1080 435 1185 508 1009 430 939 273 1049 633 899 721 1098 395 936 470 917 320 965 410 818 310 931 716 961 408 1063 453 888 233 1006 464 986 302 925 384 1043 553 1050 288 1061 406 1018 455 1125 317 1034 418 955 320 1035 343 1014 445 996 420 1076 363 892 319 1031 375 1150 432 905 350 1044 352 952 348 1062 502 966 362 1026 490 1020 516 1147 386 1138 330 1084 432 1101 411 903 302 1005 476 1170 355 938 444 1162 459 948 456 944 646 920 376 1033 302 952 379 1038 469 990 386 966 433 1159 375 1115 466 1069 333 1063 360 985 271 1114 433 1058 377 1100 429 888 221 945 435 1021 498 1142 441 1144 371 1069 467 996 317 999 460 1064 540 1012 420 1107 402 1092 419 1005 347 1038 486 1096 424 1148 450 1070 361 1014 428 1087 358 1070 397 1174 406 1049 333 961 697 1071 519 1174 363 1033 301 968 653 1069 325 915 702 991 652 1022 399 935 521 1033 425 975 461 1095 452 1106 339 957 357 979 394 1132 346 975 353 1100 522 818 261 1151 419 1157 429 1094 401 1182 449 991 470 1042 387 1175 341 942 325 996 445 969 322 979 379 1164 430 1038 383 1204 424 1006 389 1034 498 1178 377 927 326 955 331 1158 406 973 474 904 296 1001 383 1059 393 1117 514 1088 457 812 255 1048 358 1143 351 1185 383 985 325 1121 345 1103 467 993 343 1028 307 948 693 804 293 1041 329 1158 514 1110 481 938 355 986 414 1004 475 1014 423 1088 315 1111 436 1065 478 927 305 998 390 1052 333 1062 464 1160 394 1134 505 997 365 1176 495 975 479 1111 467 1173 373 938 399 890 325 1164 458 1034 321 1117 398 1137 377 1040 370 1058 478 921 336 1007 382 1162 513 1053 316 1152 420 1112 504 1082 417 1074 464 928 363 984 438 1192 360 980 394 1122 486 1032 467 1019 324 1155 503 936 455 980 654 940 413 1002 642 1092 484 1115 437 1040 647 1042 512 887 313 1063 452 964 389 983 539 1042 398 1097 420 1097 496 1145 350 1160 528 972 432 989 454 1095 406 1182 468 1185 387 1019 381 1050 296 990 373 1124 458 1034 493 981 460 1070 296 1056 357 1146 500 1139 483 1118 504 1079 492 980 341 904 323 1157 412 982 316 999 369 963 441 947 440 1011 491 1041 481 878 302 890 534 1084 435 884 300 1018 451 989 461 1159 413 960 382 988 318 1150 381 1116 405 1120 348 1111 443 1062 401 1041 395 1119 340 858 312 1182 420 1131 463 967 506 1080 317 1126 364 954 349 1146 467 985 362 1147 455 917 333 1141 405 1036 374 1090 330 878 707 1072 499 949 364 980 324 1110 539 1012 475 1188 358 1191 368 924 390 1125 513 1137 460"/><path class="b" d="M417 371 374 408 337 301 831 326 426 307 371 335 867 401 453 395 835 419 803 364 492 374 486 342 428 439 468 377 349 480 872 392 776 406 452 278 877 390 343 313 462 318 780 340 900 352 468 372 865 405 463 302 336 284 427 335 832 426 333 367 343 259 458 389 421 433 351 298 752 366 444 323 373 284 498 334 372 352 436 341 415 405 466 362 413 428 863 409 395 401 338 403 395 290 866 344 905 375 831 420 769 357 352 309 756 368 428 306 431 405 847 370 476 294 785 392 722 480 492 334 709 401 330 349 854 338 351 364 383 417 758 343 425 321 694 414 799 387 357 400 345 266 829 388 407 408 403 377 861 401 793 348 757 355 768 387 393 291 890 358 433 372 910 393 862 371 752 331 812 331 504 338 802 389 720 391 332 316 489 325 882 386 742 337 793 383 868 458 463 373 366 318 473 334 445 397 814 386 364 437 772 407 791 391 470 322 872 437 504 371 476 333 444 281 413 280 888 415 726 434 813 385 389 293 393 303 338 282 383 441 430 444 456 364 402 405 835 405 436 277 510 396 397 439 353 336 335 274 540 357 483 414 869 469 315 402 436 429 384 321 783 457 834 427 765 350 898 407 384 446 839 438 398 351 798 416 453 320 370 332 440 437 409 414 477 408 898 384 384 284 410 270 332 386 321 295 441 373 329 263 386 420 863 421 372 327 902 397 877 377 774 339 329 388 466 322 374 337 352 298 896 390 355 282 826 370 454 297 383 358 355 285 385 329 820 410 754 368 345 453 862 440 872 356 810 383 853 431 821 417 355 386 818 580 855 386 718 405 742 413 868 366 292 431 838 428 410 399 458 380 896 379 824 442 315 334 787 481 828 372 393 405 844 418 923 396 411 406 852 387 325 426 404 303 378 366 472 282 343 430 452 390 368 333 778 336 476 376 479 415 380 296 805 423 502 370 356 408 393 263 330 373 889 396 335 417 417 367 330 296 327 357 355 347 751 332 329 367 478 331 388 300 794 403 349 269 419 431 340 319 834 352 450 348 870 372 432 428 493 414 390 398 769 348 445 292 516 385 476 314 495 396 352 445 360 410 804 444 752 382 837 378 386 475 396 294 491 353 469 363 370 396 444 314 469 411 427 290 353 399 871 355 814 375 820 399 424 447 433 275 819 422 348 573 439 449 409 341 827 405 418 358 427 388 839 396 841 360 432 333 414 306 846 433 881 375 343 421 479 430 793 423 768 360 791 339 786 374 389 432 474 355 862 417 761 420 856 436 864 433 819 371 519 363 363 311 323 682 589 383 389 417 427 365 755 367 363 420 888 402 880 388 464 405 793 366 438 296 777 342 836 414 323 462 347 323 792 386 382 430 431 362 473 413 873 367 431 413 773 336 350 396 374 407 345 457 890 373 398 480 422 333 762 402 828 386 447 412 806 378 873 394 451 434 475 337 859 457 380 450 824 350 439 438 480 390 372 361 384 270 343 447 398 433 362 350 450 428 495 394 397 273 467 317 791 414 395 426 802 420 863 439 864 410 363 390 804 396"/><path class="g" d="M650 428 301 242 215 577 319 529 265 223 595 426 234 492 278 357 296 335 267 526 763 295 582 385 685 414 594 528 639 356 328 543 279 333 297 507 356 560 688 433 321 439 597 420 651 283 272 520 714 232 352 533 620 459 336 465 316 500 628 410 644 446 308 539 590 420 719 427 681 379 310 555 250 254 595 409 683 440 656 551 302 585 610 484 729 235 612 368 223 410 271 269 634 472 610 512 169 572 465 280 295 193 649 468 742 231 290 498 655 498 341 532 622 467 285 456 736 520 276 508 716 433 663 303 594 463 277 416 267 397 698 432 624 315 358 480 592 335 670 323 840 303 697 488 637 348 290 236 657 274 690 241 248 402 738 556 280 518 628 422 607 365 575 361 279 440 374 473 313 485 164 335 615 441 692 453 227 482 752 458 317 326 590 703 251 455 259 210 618 457 244 628 601 306 322 444 273 424 589 488 711 530 646 415 662 337 255 240 601 327 292 194 759 273 757 245 301 481 714 303 268 606 297 187 234 379 661 590 577 309 270 232 733 303 613 661 766 260 351 534 646 481 669 297 220 315 626 297 628 382 655 592 239 360 743 421 591 349 276 426 490 213 674 499 280 542 667 372 361 679 651 304 596 633 705 520 517 227 275 461 294 453 213 328 303 424 295 327 759 313 650 504 307 297 345 526 617 336 287 523 293 226 695 249 374 516 212 575 645 309 641 521 667 381 259 412 721 436 256 471 339 510 674 457 625 556 231 466 329 554 301 565 749 279 675 392 650 415 287 364 611 409 752 463 339 527 600 322 703 232 346 442 251 233 643 329 176 343 248 240 276 244 663 320 684 261 615 506 655 491 642 299 619 300 701 486 585 333 664 326 269 496 643 283 634 519 289 459 708 428 782 278 211 349 164 313 381 715 649 315 678 539 625 356 285 491 735 472 712 291 264 451 683 417 256 508 278 544 327 485 701 553 698 430 261 363 718 509 280 474 747 469 707 520 704 479 586 295 251 530 621 303 281 423 660 409 251 385 169 378 269 500 700 467 687 437 668 476 588 375 273 475 725 257 603 293 305 250 608 459 248 435 722 526 698 292 260 586 759 284 294 313 259 598 244 487 645 524 599 533 248 546 672 312 785 259 749 250 642 317 659 334 254 393 675 441 720 475 801 286 491 427 528 359 309 354 157 692 679 423 305 196 618 524 606 397 230 420 334 525 186 389 320 547 285 239 591 411 341 460 261 232 667 299 654 375 190 696 230 357 351 456 297 534 172 345 689 428 245 677 738 510 182 436 310 531 306 199 628 484 254 410 647 471 609 425 245 405 259 293 335 661 273 547 586 311 651 419 624 290 588 449 673 339 305 475 139 729 589 355 240 383 283 433 331 537 646 470 264 403 242 548 261 462 250 503 267 377 710 477 538 414 270 534 748 523 352 505 239 379 604 297 777 248 237 490 258 408 247 282 228 418 742 237 316 436 258 573 754 261 698 472 737 291 625 437 332 592 311 491 596 413 219 452 309 431 616 563 268 344 666 257 695 492 652 407 672 398 231 366 683 368 257 428 248 261 294 554 278 358 628 360 674 589 746 472 356 516 300 396 598 578 389 574 303 220 623 604 652 317 667 510 355 189 271 560 365 522 358 597 267 554 636 317 595 611 692 301 247 327 228 266 338 570 743 241 304 284"/><path class="o" d="M1172 380 1131 384 978 369 996 470 1187 364 1032 423 934 428 1164 453 890 324 831 309 811 253 1084 482 1019 302 1128 455 944 477 1050 330 914 290 1056 390 1173 469 1037 389 1010 351 1073 500 1078 367 1033 431 1154 449 1117 453 1133 492 941 390 1052 512 1192 375 1066 315 1125 324 948 420 1138 386 968 324 1160 458 1009 489 1182 377 1002 392 1136 425 1057 413 1092 335 1096 483 1133 465 936 369 1004 466 1158 351 1082 327 1061 361 908 322 968 465 995 455 1139 393 927 317 1065 283 1133 490 1008 523 999 358 860 236 1176 445 1147 420 988 451 1146 480 954 341 910 336 941 435 1100 423 937 438 1130 472 1002 285 1022 297 933 462 1113 319 946 372 1060 400 1086 492 1081 350 1140 428 874 229 1047 540 952 433 1044 358 990 485 1196 428 980 338 1149 387 1063 312 1040 378 903 699 1066 464 1165 507 1081 421 976 488 1081 414 1124 435 977 454 1005 449 1166 379 982 461 958 550 1142 427 1046 318 1189 407 896 297 969 295 1149 315 1089 340 933 542 1106 532 924 387 1063 358 1168 341 1080 341 1058 333 1132 410 1129 359 1076 319 1188 345 1069 477 1166 504 1025 482 976 361 1173 432 941 330 1154 340 1010 387 1089 437 1030 353 1101 368 1085 359 1003 482 1099 427 944 396 915 293 990 443 858 297 985 392 1057 330 1091 515 1013 468 1150 354 883 250 1094 350 1025 491 1164 332 1020 552 1083 446 1038 395 1166 492 896 383 1038 328 996 356 1159 459 963 399 1154 437 998 483 1175 337 1104 534 1120 367 988 320 1066 403 1033 374 1087 391 967 627 966 369 989 420 1079 437 1113 313 1091 399 1006 474 1138 528 988 409 1108 493 891 288 993 491 1063 564 1178 392 1056 301 1021 424 867 308 965 306 1149 495 1095 391 870 584 952 512 1165 540 1068 518 964 477 1187 443 1042 382 1099 289 962 346 1112 351 1043 458 920 367 1050 508 986 538 1092 339 1092 494 1059 440 1161 343 986 728 1060 500 1032 453 1156 464 939 358 1105 323 957 474 1125 388 1106 417 978 431 1018 449 1148 353 1021 508 919 317 1033 533 967 353 1183 337 941 614 1117 444 1163 524 1079 347 984 351 1002 650 966 310 1122 465 1079 659 909 287 962 397 1176 485 1155 472 955 301 930 327 1076 320 1105 335 1129 505 1040 511 1000 458 1193 381 998 422 919 316 867 325 1162 345 957 351 987 373 893 262 972 395 1157 506 957 360 1171 477 925 312 1091 300 1161 478 1102 508 931 674 1176 371 1186 465 983 469 1133 392 936 471 1179 467 938 413 1045 469 1137 332 1080 368 953 617 1067 487 1166 429 1141 322 1190 358 973 502 1136 492 1120 446 962 520 975 551 1154 351 980 448 1080 492 1005 495 940 356 980 385 996 400 1058 346 950 311 1043 521 1150 348 1124 292 940 432 1072 465 914 405 897 613 896 321 980 496 979 396 1120 370 1139 401 1031 379 960 516 1050 443 962 390 1109 421 862 267 1020 407 977 683 1034 525 980 331 1044 361 1152 476 1077 438 1187 441 1048 447 1188 463 1089 345 993 450 1091 394 1186 408 924 322 1144 296 1081 294 1187 455 1121 489 911 369 942 346 969 421 1012 331 1000 518 1120 484 1019 317 1106 513 1020 303 1085 319 1145 321 1192 365 928 354 1106 447 1091 469 1110 428 924 319 964 416 1156 366 959 402 1174 345 881 324 1005 311 1128 477 1107 360 841 267 1161 345 954 535 926 326 1079 301 1102 451 954 305 980 323 970 323 939 639 1132 472 1148 380 1072 474 1162 407 1139 473 1170 339 1019 471 1152 475 1043 505 1176 353 1020 363 1198 433 1118 330 994 472 1023 739 1021 493"/><path class="b" d="M436 301 313 259 464 289 795 330 448 377 374 253 810 377 744 362 426 443 446 308 802 395 450 348 755 357 809 371 398 410 382 357 519 382 356 369 792 415 791 421 348 269 383 366 427 385 319 445 831 377 464 299 463 362 395 391 832 363 495 369 490 390 408 438 871 425 884 352 454 418 392 336 830 369 331 311 402 403 773 319 383 384 427 288 807 332 328 424 314 474 407 435 414 446 480 374 370 432 435 405 399 283 347 423 730 367 449 329 337 310 359 421 896 418 712 426 469 417 773 340 410 355 500 375 767 331 880 389 900 381 369 346 870 399 453 362 326 345 837 354 436 360 863 405 323 289 371 402 883 347 400 398 879 455 456 430 459 338 333 440 434 494 900 424 413 290 331 291 433 314 422 338 892 399 894 414 369 371 763 357 451 319 454 417 432 318 335 372 877 456 411 287 330 312 874 399 805 335 908 396 378 270 401 401 455 287 904 372 456 300 460 286 878 382 502 370 870 450 451 300 478 451 429 352 412 396 360 436 441 332 873 432 369 440 394 256 375 423 895 357 797 363 846 377 899 366 833 400 892 406 308 579 375 286 881 438 355 452 773 327 848 387 462 316 881 443 409 310 354 512 425 294 321 414 414 312 468 298 382 347 479 368 369 435 314 412 783 434 349 378 751 479 429 400 442 371 793 382 718 346 455 402 483 332 463 434 830 364 337 377 741 346 485 317 338 278 443 312 767 466 831 358 867 440 823 353 757 350 429 416 768 465 801 437 842 457 364 397 845 426 435 365 805 385 749 371 786 346 413 418 866 353 392 312 338 339 353 403 778 416 422 355 830 369 404 417 911 389 837 411 365 316 777 399 386 433 841 439 395 327 857 358 418 291 776 393 419 397 464 337 881 455 341 443 871 453 827 587 500 402 441 289 805 363 486 338 512 391 781 343 464 316 336 313 880 396 447 308 489 408 436 280 348 402 894 419 410 416 737 320 874 385 428 424 774 359 457 273 443 348 499 361 905 362 794 427 370 425 442 328 438 327 435 288 317 385 473 331 435 325 444 304 913 435 415 392 349 513 450 279 851 391 773 357 737 329 897 447 477 361 458 318 865 379 327 347 429 335 813 418 895 401 352 413 787 410 758 359 371 328 702 387 461 375 359 255 465 327 409 389 331 256 774 374 881 397 892 458 880 429 363 337 362 353 890 397 358 413 453 279 896 365 908 376 401 400 342 404 340 289 391 388 500 374 434 435 434 308 368 370 397 422 358 441 444 410 824 381 765 345 860 453 469 365 423 430 848 334 476 350 762 394 926 392 508 352 830 414 342 417 485 302 458 433 346 370 451 354 822 398 412 348 348 249 782 691 781 361 376 330 366 448 750 344 452 266 481 373 746 386 799 422 494 393 469 426 462 353 805 388 377 386 452 427 460 302 386 344 772 334 319 323 432 374 885 345 483 392 842 449 479 320 491 409 747 366 453 302 855 340 328 263 389 439 456 423 756 363 348 405 426 327 356 357 449 362 375 260 772 361 903 441 463 389 422 379 388 355 863 361 898 436 324 411 397 288 391 268 406 445 359 335 380 412 732 436 755 339 345 330 357 302 446 306 340 301 370 290 749 471 716 348 840 350 325 439 383 389 466 301 824 430 792 368 923 391 833 364 731 343 444 410 448 338 918 404 432 482 799 336 405 423 818 359 372 449 491 388 409 277 366 418 427 414 887 415 895 408 809 379 790 392 870 433 819 425"/><path class="g" d="M365 477 620 342 184 379 587 402 339 545 717 306 292 284 287 233 244 443 288 483 306 570 633 231 672 368 256 293 587 337 315 509 710 407 681 416 276 527 667 324 241 370 714 514 713 431 639 415 277 555 653 464 612 500 728 442 274 350 289 274 325 511 248 264 269 245 218 512 713 436 643 515 303 389 315 499 297 439 598 362 287 257 262 420 238 367 776 288 677 256 599 437 690 465 289 259 348 458 329 492 704 295 263 547 234 369 360 616 715 452 666 503 711 217 297 247 258 236 725 486 239 277 262 447 713 473 649 267 585 374 643 415 742 228 632 318 273 256 677 303 267 481 612 509 337 466 632 379 690 425 283 546 722 502 210 454 614 430 216 444 622 485 560 446 246 382 280 395 400 255 319 317 312 446 782 294 663 284 663 578 331 491 271 325 191 670 651 515 620 308 293 531 350 462 712 287 290 303 314 265 631 252 679 321 605 425 210 477 278 402 668 261 268 608 359 506 636 536 662 266 194 307 150 325 692 430 671 436 303 283 703 286 281 316 181 428 616 499 597 426 339 646 750 273 601 482 582 353 632 313 255 321 691 487 243 356 714 456 248 549 726 465 692 435 577 349 697 472 679 374 293 557 305 230 704 472 263 499 579 353 256 399 602 366 304 424 622 352 625 247 648 462 599 446 713 252 271 343 638 514 626 489 605 506 647 254 250 542 303 270 595 368 669 334 732 471 681 462 619 300 245 355 631 420 266 319 597 525 207 463 236 495 718 478 653 319 718 495 644 388 254 507 687 407 328 474 274 510 598 314 332 503 669 306 344 505 295 545 681 503 755 252 772 247 237 468 677 369 262 193 659 281 712 566 308 190 299 478 659 302 289 536 268 547 733 236 592 419 227 542 242 401 772 417 249 432 601 527 351 472 705 475 716 538 563 486 742 299 297 440 639 464 308 461 290 451 597 339 265 413 295 505 318 513 597 315 225 495 710 425 283 367 688 423 705 493 659 266 325 531 666 334 585 315 675 331 400 716 761 245 235 270 823 249 220 499 217 406 718 450 639 423 684 305 628 441 694 509 236 583 633 349 622 284 632 340 329 506 657 311 248 284 247 515 579 397 266 368 726 445 708 606 661 224 259 405 662 486 271 397 634 471 627 479 698 434 606 359 649 489 598 350 661 445 783 268 245 536 216 365 319 285 698 723 206 613 712 434 314 247 234 272 265 208 578 311 607 440 734 283 268 310 600 442 611 310 661 461 237 331 304 501 216 457 306 284 770 250 798 300 593 328 285 569 280 305 648 404 264 308 244 237 681 349 686 530 657 459 698 269 611 345 259 539 757 252 299 328 294 562 654 598 601 503 284 545 634 314 235 254 718 224 707 302 277 388 310 230 345 471 738 246 297 668 633 299 604 523 219 500 733 245 687 502 780 275 616 457 600 349 609 531 286 403 496 215 232 489 621 563 272 382 687 478 245 253 196 416 298 349 284 444 248 501 715 508 222 556 701 422 226 346 735 241 642 470 231 423 743 233 607 483 587 685 733 303 298 365 650 447 780 416 638 361 279 423 684 578 654 312 577 287 748 473 261 447 644 526 208 548 686 326 268 472 644 442 673 273 616 365 655 337 250 535 635 426 287 220 754 231 591 356 643 446 277 545 335 509 629 486 335 578 344 504 667 266 649 372 621 437 679 433 320 511 643 350 380 511 632 594 597 312 623 503 772 278 701 509 701 523 707 406 604 425 671 304 273 435 613 311 640 465 732 473 610 476 630 281 395 697 232 481 633 367 662 481 531 316 693 406 718 496 313 512 252 473 634 468 646 341"/><path class="o" d="M1086 370 1194 479 1064 452 1105 288 1156 396 1022 375 1047 445 1139 439 959 432 885 299 1166 488 1180 361 1022 323 994 354 1026 346 960 435 1140 316 1132 488 993 487 898 396 1112 429 984 565 871 310 1001 458 1021 389 939 368 1126 334 1157 379 1009 318 1127 337 963 415 911 557 1097 363 1170 361 1218 358 953 443 1195 407 1033 322 1197 409 1159 386 1134 471 1058 386 989 378 940 344 1137 497 929 508 1091 380 970 353 1040 470 894 245 1083 396 801 261 1104 519 970 417 1021 309 1103 351 1066 407 949 431 1197 417 978 465 1097 360 922 287 1163 473 920 287 941 377 984 468 1074 431 1202 386 1072 410 1110 351 1177 376 979 374 1177 362 1175 403 1121 382 952 460 1033 447 1180 412 1063 464 1016 417 1019 408 1060 526 1117 422 1051 316 949 412 1116 451 1056 388 906 246 1030 359 1092 430 1018 403 1193 415 1110 373 1119 370 946 335 1086 527 962 355 913 327 931 448 1088 422 1037 476 1210 394 905 615 1055 445 1104 514 1101 326 1023 440 966 480 981 637 1028 484 1073 390 1014 419 887 304 1078 480 1104 506 994 361 1103 415 996 369 810 284 1150 470 1105 311 1189 357 1102 415 1005 429 912 282 994 376 1084 451 1139 493 1161 512 998 454 1025 357 942 414 1055 488 1122 473 1171 420 1157 376 1057 335 950 335 1177 354 1134 499 1106 472 956 501 1133 430 1175 436 1148 327 1090 556 1125 426 1201 398 1032 421 1060 340 955 503 1059 515 1104 453 1032 358 1081 319 943 376 1065 423 957 390 1007 453 1047 364 1110 335 1102 371 1178 488 1080 464 991 492 980 464 966 374 935 317 986 443 1192 350 978 411 928 698 903 289 1162 435 964 370 1079 383 1155 490 1092 317 973 467 899 257 1143 405 933 468 1037 569 1000 532 1094 364 1028 419 1182 472 1002 510 901 315 963 375 958 364 1046 485 976 318 1007 292 1033 369 1058 335 1081 314 997 469 1060 346 933 522 1082 332 1084 412 1167 334 970 410 1191 398 1077 411 1163 420 1030 362 1051 443 1161 533 1177 369 1094 364 916 339 859 268 1162 392 1134 353 1003 399 927 298 1133 369 1156 493 1100 364 1039 457 1123 384 1005 420 1060 412 995 502 1199 376 1051 531 1087 381 967 413 1093 328 1192 382 1043 394 1148 452 1014 647 1070 522 946 378 1103 502 1074 352 993 454 974 353 809 263 1077 323 928 339 983 291 1038 537 1204 396 1134 329 1113 407 1161 333 1134 421 1102 361 971 280 985 304 1110 349 1061 458 1112 304 1032 296 1109 303 1002 367 1149 372 1116 429 940 332 1145 513 901 309 975 297 1191 505 1044 379 1107 461 965 459 1094 342 1000 485 991 344 1056 443 1032 676 1029 312 967 487 898 235 1099 377 944 374 935 433 979 431 1101 494 947 463 888 223 938 439 1172 441 1040 453 1082 425 957 408 995 445 1126 488 1158 513 1144 420 963 468 1104 435 1095 339 1096 357 900 337 1025 345 1132 455 1091 485 952 452 1028 426 985 436 1034 345 1091 480 1055 316 1070 432 905 254 1070 339 964 563 1129 455 1066 340 953 442 976 514 1062 421 1082 432 1026 474 1036 465 1032 457 1085 287 1177 468 1154 473 961 393 1055 452 1069 662 984 435 897 271 1180 440 1172 425 1118 376 1147 390 971 528 1186 402 979 464 983 496 1177 519 965 341 1153 408 1141 440 841 267 1020 485 1058 454 1128 486 1157 537 949 327 1029 502 1174 372 1126 521 980 491 958 336 1069 406 1169 327 952 441 1196 405 1106 499"/><path class="b" d="M323 323 850 400 493 336 331 274 331 367 441 361 451 279 897 385 838 467 476 307 912 408 331 409 339 344 799 386 416 395 496 371 798 403 319 363 362 289 740 348 872 403 838 397 896 451 826 332 366 255 335 289 399 300 752 378 782 421 793 422 386 411 412 373 363 397 471 371 363 358 463 314 887 452 464 324 839 448 484 420 469 345 883 403 446 335 815 383 395 289 372 299 413 294 811 362 825 424 331 376 846 358 336 421 777 364 722 385 340 400 851 350 836 334 392 352 422 352 441 337 455 336 455 437 343 321 782 381 897 460 367 643 788 326 410 437 392 407 791 405 411 427 884 420 419 405 340 261 377 339 893 339 812 376 913 400 395 390 340 256 786 351 395 384 823 410 824 375 325 432 468 458 350 259 868 353 858 424 414 291 348 301 694 398 388 277 539 357 410 398 481 367 874 367 726 317 429 432 800 383 817 405 872 455 876 453 321 410 396 308 803 345 377 342 801 334 400 332 846 362 473 416 384 417 799 408 318 262 435 302 875 431 326 270 907 390 481 342 374 254 505 401 813 372 856 405 502 369 365 324 330 431 433 450 467 338 792 365 747 367 375 279 769 392 698 362 450 300 405 421 824 437 471 392 475 364 387 310 445 315 774 344 342 344 779 399 356 453 345 415 360 284 412 398 476 325 478 433 431 437 314 364 476 406 768 386 420 311 424 325 883 349 813 383 406 352 774 358 417 399 434 315 362 249 428 328 724 409 418 362 796 341 746 380 361 446 803 412 325 345 425 264 395 352 477 405 404 390 852 398 842 431 396 353 755 330 816 436 359 438 329 483 857 427 484 341 834 435 492 373 325 398 471 320 717 394 381 451 361 366 384 439 768 660 897 378 850 382 496 357 774 407 826 672 739 342 479 417 821 428 393 435 749 350 433 325 382 319 754 355 338 363 408 324 363 301 408 365 788 381 354 390 331 529 827 439 796 350 434 287 805 375 492 370 722 447 367 347 450 403 387 349 844 517 387 433 356 419 423 395 490 349 450 336 889 434 786 357 355 376 426 389 439 385 459 357 828 364 749 352 905 376 789 421 350 420 897 443 831 447 413 353 391 362 896 415 746 420 465 442 896 423 833 416 347 386 487 389 825 340 382 332 839 434 823 394 427 422 805 340 718 355 314 279 891 355 768 329 474 410 842 448 790 346 467 360 333 417 455 335 875 369 901 416 808 400 744 332 750 358 851 457 339 497 418 435 809 450 344 342 381 395 816 394 379 271 352 423 831 347 731 421 364 388 419 325 790 399 424 442 416 360 773 330 510 386 742 340 687 360 434 414 385 433 484 406 880 448 488 338 462 387 833 331 474 310 877 393 454 326 712 386 845 384 501 336 533 359 462 458 789 425 361 288 326 298 900 387 812 377 419 371 854 419 841 451 338 355 392 403 365 415 919 423 342 347 381 443 807 373 410 314 340 299 393 317 916 398 469 403 458 412 716 375 880 433 892 411 426 477 332 279 432 407 436 300 429 361 324 273 339 306 324 411 390 441 431 385 340 315 873 431 363 281 840 349 769 427 363 325 899 454 833 455 464 431 842 379 506 370 371 581 453 421 747 385 410 347 430 318 786 370 852 406 894 388 700 353 766 375 375 266 793 349 809 407 411 395 871 456 779 367"/><path class="g" d="M287 529 631 494 681 407 657 393 276 427 661 504 277 253 296 517 329 666 770 454 637 321 741 523 624 270 571 499 736 291 647 440 289 444 667 466 713 498 705 420 595 481 252 434 691 309 731 249 621 344 611 417 269 237 325 447 692 526 296 471 675 290 226 447 349 582 226 569 593 425 329 496 602 351 293 404 657 464 621 306 372 484 660 329 335 201 288 363 629 348 231 405 306 267 734 251 640 482 728 528 663 468 241 610 283 591 713 454 356 500 243 709 698 310 273 541 271 441 698 300 735 246 644 536 393 488 737 497 712 317 664 377 227 409 670 478 242 289 174 429 255 593 740 481 589 368 632 416 637 422 730 309 603 527 351 513 351 464 744 290 695 433 188 430 292 463 305 425 663 525 307 510 621 327 299 425 691 485 254 209 704 298 257 519 296 530 599 363 268 224 229 438 277 470 264 328 452 210 640 453 664 462 315 720 659 317 692 264 352 209 212 409 273 458 604 410 261 347 676 461 623 351 720 443 587 367 304 305 636 407 234 592 269 492 640 340 257 524 587 514 347 217 603 515 677 412 687 470 322 511 594 384 675 503 631 452 279 549 657 466 202 599 705 514 226 335 301 443 581 340 602 334 277 676 753 424 281 293 709 475 741 286 618 458 232 288 679 302 678 322 656 433 659 286 303 453 601 403 773 230 674 358 764 467 642 524 602 412 276 524 742 486 704 270 625 445 684 422 239 321 314 436 703 298 745 505 687 481 634 265 321 530 259 547 662 281 357 519 218 389 295 439 730 475 442 207 689 421 334 512 741 248 222 234 255 435 616 316 669 327 699 497 253 284 260 273 611 416 771 236 750 471 703 493 688 358 701 252 776 258 731 471 772 294 297 547 641 307 290 541 320 518 362 461 594 509 701 518 345 473 318 555 781 274 648 255 320 489 758 238 704 410 277 393 279 502 667 345 658 458 728 458 602 482 657 462 261 647 688 498 278 571 280 402 357 577 285 284 644 357 665 511 613 387 602 605 708 274 305 543 217 479 594 337 687 417 643 294 255 224 693 443 622 536 778 262 575 291 291 366 324 602 664 418 355 592 665 491 639 421 243 450 214 498 286 554 631 335 702 483 317 387 741 273 234 524 316 315 241 533 290 425 619 461 670 418 634 269 265 596 612 344 708 513 286 537 661 429 662 430 297 523 660 422 285 368 719 578 631 256 633 354 342 532 346 483 617 582 298 536 355 508 739 294 599 489 361 517 361 474 348 459 739 562 853 311 739 490 635 436 563 486 411 236 705 270 662 287 601 670 287 562 359 484 312 418 648 347 729 279 714 503 662 474 218 544 674 398 279 424 659 424 282 281 621 478 604 520 792 300 279 532 639 342 270 247 307 435 741 514 584 512 242 390 235 265 620 425 270 245 679 491 737 486 304 554 613 334 229 462 707 467 704 485 314 512 367 523 722 265 624 611 292 398 677 342 219 353 612 443 675 459 715 479 690 504 691 264 560 641 274 384 636 464 341 529 294 370 609 406 724 252 639 434 364 225 388 219 609 275 750 452 611 563 610 390 649 510 736 265 289 518 672 460 269 266 742 429 262 415 712 484 642 492 608 362 251 266 649 265 282 561 233 583 682 412 276 443 297 576 688 458 278 402 230 442 694 251 247 420 672 270 695 450 602 516 193 464 725 441 684 203 285 398"/><path class="o" d="M1077 426 1170 486 1091 414 977 413 1098 337 1040 448 1040 487 1054 508 1137 504 1130 533 1178 464 1091 493 1205 382 1026 344 1092 358 988 486 1104 508 1130 453 1121 309 1086 343 1035 420 866 424 1035 500 1025 331 1192 370 1094 406 950 325 944 396 952 352 1134 426 997 489 1060 442 958 366 946 356 947 342 904 692 1011 684 1049 483 936 343 1118 377 1107 468 1022 580 1002 445 955 504 1192 369 1084 429 982 407 1061 479 890 302 1136 387 998 430 952 408 1128 515 913 341 1139 423 1067 361 871 233 1151 490 1164 479 1024 422 1074 300 1034 478 1180 428 1078 488 1099 411 1104 386 1113 375 1118 517 1072 436 1009 460 1064 292 1123 423 1080 305 1074 387 793 270 1104 308 1038 463 1175 401 1114 448 1165 480 976 315 1044 497 1152 329 1163 432 1173 494 1136 396 1214 474 1074 353 949 354 1004 423 1135 474 1129 319 952 552 963 343 1150 505 1117 518 1159 399 887 693 1093 342 1000 436 1076 361 1049 496 1116 487 1045 517 906 307 892 326 942 302 1078 379 1047 439 945 441 1066 502 908 692 959 463 1031 478 1149 435 1133 515 990 446 1050 418 911 282 1024 317 1068 389 1188 405 1032 467 959 351 1135 466 943 445 1152 347 1185 404 1141 503 1047 446 976 603 1153 517 1107 574 1055 422 949 442 1080 467 935 425 966 475 1024 373 1151 427 1058 503 1065 504 1172 383 1157 452 1080 474 1184 480 1125 388 1042 333 937 370 1161 500 1117 330 1105 461 1018 511 1007 274 1156 415 1101 356 1159 502 1025 457 1127 304 1053 475 993 328 1170 442 1078 456 1101 305 1136 370 1012 478 983 467 950 586 1089 473 907 331 1137 390 1122 362 1065 402 1131 321 972 473 1033 380 881 263 1131 347 1016 538 985 465 1006 384 1029 428 1103 384 978 479 949 361 1026 477 1147 426 1155 311 1143 471 1116 376 1164 333 970 438 1172 395 1108 501 1039 457 1219 365 1078 384 1160 385 922 516 1147 341 991 469 992 489 944 451 871 236 1154 426 1150 384 1060 452 963 414 1203 486 1004 387 996 308 1014 514 1100 432 996 386 1060 330 935 449 1040 532 1141 500 943 301 1052 351 1122 439 1168 386 1011 438 1159 392 1179 479 927 334 1125 367 1002 541 1170 507 1068 480 1161 460 1050 304 820 307 1154 334 994 395 1023 312 1044 382 1068 403 978 426 1039 335 892 227 1043 312 1107 461 983 420 1091 327 1192 505 1107 463 1129 373 1081 511 1029 701 1032 487 1106 383 1110 433 1134 311 1028 466 1096 522 1117 352 944 731 1002 351 1057 339 1211 336 1127 372 954 342 858 728 964 388 1061 536 1070 524 974 491 1095 378 1181 442 1057 383 943 376 901 302 1111 466 1087 286 894 331 1089 326 1022 325 1141 509 884 237 1007 497 872 348 1032 459 934 332 1112 487 1124 441 1021 355 1082 312 1176 416 1047 331 932 283 1041 408 918 314 1020 479 1170 479 1002 483 1058 484 1022 498 872 333 1106 442 1186 359 993 277 1068 353 984 679 1135 504 1157 417 972 294 1139 502 1000 450 1010 347 1174 490 950 399 1087 481 981 376 1145 525 1068 487 1000 400 1046 446 965 327 1107 383 1143 376 906 330 991 429 1130 502 1137 367 1195 452 1032 362 947 398 999 359 1095 471 1027 472 979 505 956 317 999 389 1012 426 1027 425 995 490 1110 474 1061 428 926 603 1005 527 1089 404 1005 435 1000 345 934 379 1090 437 1045 407 1178 395 972 346 1135 409 1113 372 944 461 1006 474 1020 444 1176 474 1141 378 970 339 907 311 1182 502 950 333 1156 509 1081 352 1141 405 1028 475 943 406 950 283 986 339 974 518 1032 408 991 369 1026 340 874 447 1051 376 1012 374 1025 387 1106 420 964 485 1016 354 1179 406 1044 350 1096 307 993 674 970 420 999 394 962 300 1015 512 899 328 1020 468 1051 389 1024 355 1084 375 873 343 993 289 1012 488 1041 503 1042 302 951 325 1027 296 1094 437 906 336 1029 340 965 345 990 401"/><path class="b" d="M316 303 802 381 784 341 476 392 869 387 802 426 404 268 710 358 424 298 379 258 842 383 327 409 487 332 797 337 467 345 862 345 475 335 869 403 420 279 801 431 343 308 387 433 424 289 326 282 414 445 370 301 914 415 772 368 891 358 460 310 356 300 419 299 407 386 498 399 812 340 430 498 472 284 338 490 362 361 343 247 818 363 440 266 817 331 750 390 383 405 367 437 352 393 429 352 452 340 345 281 339 286 423 311 328 398 799 373 386 492 845 412 836 403 421 278 487 308 758 397 344 316 446 334 437 341 408 426 717 381 419 305 329 271 426 363 803 372 452 424 399 439 839 336 351 320 846 447 754 336 424 341 765 362 462 396 346 388 890 452 767 362 570 372 460 365 806 369 448 280 817 433 444 296 856 424 364 277 885 385 379 285 852 451 333 301 372 418 386 282 801 368 372 441 844 399 790 430 373 422 813 473 436 351 798 410 824 352 741 354 467 380 327 419 345 422 251 393 418 432 829 377 420 379 455 370 469 357 406 316 323 368 349 262 428 427 380 405 848 377 500 388 866 428 787 338 842 341 327 420 453 299 351 259 491 380 773 351 362 283 900 371 332 324 334 252 762 454 812 441 377 368 369 479 358 444 492 354 424 299 846 414 785 328 343 238 487 350 353 337 405 432 898 417 775 389 897 385 453 339 335 355 882 443 839 372 410 285 688 353 432 302 749 331 392 441 404 312 722 340 453 328 876 428 814 439 369 258 335 424 404 431 882 352 323 373 484 337 875 476 377 511 481 405 356 451 442 426 886 420 416 375 448 314 816 348 370 345 324 264 477 380 338 257 824 375 327 292 874 353 908 416 427 374 351 288 475 471 450 462 328 301 528 324 342 294 426 319 335 260 468 393 796 413 480 363 503 378 782 361 377 313 366 386 359 380 493 350 855 448 372 257 336 311 409 349 745 355 430 363 333 350 370 399 434 401 423 425 403 404 350 304 356 253 907 415 695 353 418 368 821 446 422 287 454 334 365 344 413 384 380 421 759 352 414 316 352 412 356 425 476 417 435 301 383 266 396 363 797 335 489 329 470 397 783 384 364 664 406 285 387 265 451 321 315 368 402 364 319 354 799 676 814 418 401 419 390 316 384 343 884 440 365 364 318 388 352 336 752 335 347 373 873 447 843 347 471 315 781 470 854 400 799 364 420 354 472 392 322 372 426 362 772 396 768 346 355 435 874 408 793 413 907 443 469 305 333 445 333 414 385 441 922 410 322 573 465 327 452 409 328 434 398 445 848 406 422 445 770 410 429 327 779 394 392 431 359 323 427 330 347 303 324 402 900 358 850 392 795 459 437 345 315 260 496 354 374 391 343 367 481 307 510 377 450 328 385 357 767 398 415 396 326 429 864 370 389 405 409 417 826 666 396 302 411 308 910 432 438 455 394 395 469 414 414 304 415 296 713 378 896 418 363 346 362 444 347 251 474 403 863 411 425 432 331 393 374 376 407 444 441 296 453 419 346 366 401 434 815 386 371 340 892 495 372 271 803 350 400 305 848 392 389 395 865 369 389 295 820 328 876 360 371 354 405 319 488 378"/></g>
<line x1="27" y1="192.35" x2="642" y2="192.35" stroke="#c8300e" stroke-width="1.8"/>
<g font-size="14.7" text-anchor="middle"><text x="72.8" y="397">−1.25</text><text x="142.3" y="397">−1.00</text><text x="211.8" y="397">−0.75</text><text x="281.3" y="397">−0.50</text><text x="350.8" y="397">−0.25</text><text x="420.3" y="397">0.00</text><text x="489.8" y="397">0.25</text><text x="559.3" y="397">0.50</text><text x="628.8" y="397">0.75</text></g>
<g font-size="14.7" text-anchor="end"><text x="16.2" y="76.3">2</text><text x="16.2" y="136.5">1</text><text x="16.2" y="197.9">0</text><text x="16.2" y="259.1">−1</text><text x="16.2" y="320.2">−2</text><text x="16.2" y="380.6">−3</text></g>
<text x="335" y="63.5" font-size="16" text-anchor="middle">Residual Plot</text>
<text x="334.5" y="415.6" font-size="15.8" text-anchor="middle">Fitted Values</text>
<rect x="43.4" y="3.3" width="587.3" height="24.6" rx="3" fill="#8a8a8a"/>
<rect x="40.4" y="0.8" width="587.3" height="24.6" rx="3" fill="#e6e6ee" stroke="#cfcfcf" stroke-width="1"/>
<circle cx="60.8" cy="12.1" r="5.6" fill="#4c72b0" stroke="#fff" stroke-width="1"/>
<path transform="translate(240.2 12.15)" d="M-5.6 -3.2L-3.2 -5.6L0 -2.4L3.2 -5.6L5.6 -3.2L2.4 0L5.6 3.2L3.2 5.6L0 2.4L-3.2 5.6L-5.6 3.2L-2.4 0Z" fill="#dc7c47" stroke="#fff" stroke-width="0.6"/>
<rect x="480" y="8.1" width="8" height="8" fill="#55a868" stroke="#fff" stroke-width="0.5"/>
<g font-size="14.6"><text x="87" y="17.7">Both Inner-Circle</text><text x="266" y="17.7">Inner-Circle to Outer-Circle</text><text x="510.3" y="17.7">Both Outer-Circle</text></g>
</svg></body></html>
